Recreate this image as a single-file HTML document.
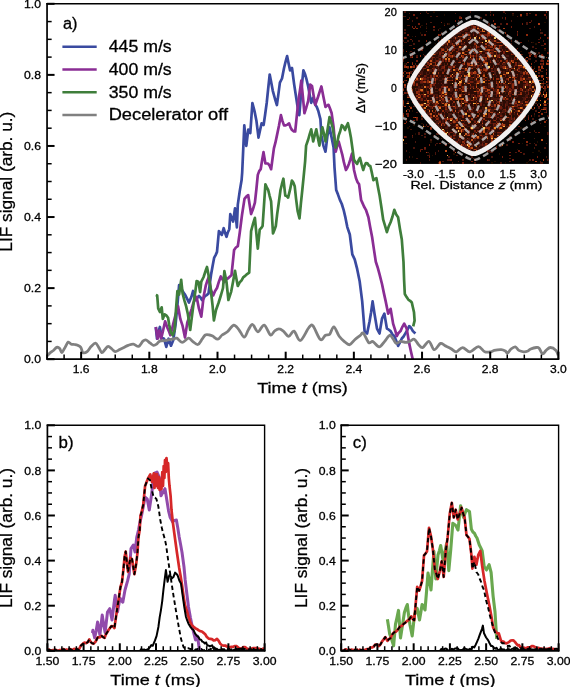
<!DOCTYPE html>
<html><head><meta charset="utf-8"><style>html,body{margin:0;padding:0;background:#fff;}svg{display:block;will-change:transform;}</style></head>
<body><svg width="570" height="687" viewBox="0 0 570 687" font-family='"Liberation Sans", sans-serif'><style>text{stroke:#000;stroke-width:0.28px;}</style><rect width="570" height="687" fill="#fff"/><defs><clipPath id="ca"><rect x="47.1" y="3.8" width="511.3" height="355.2"/></clipPath></defs><g clip-path="url(#ca)"><polyline points="155.8,327.0 157.0,338.7 158.4,332.1 159.9,327.0 161.7,337.6 164.0,338.7 166.3,346.9 168.6,338.7 171.0,345.7 173.3,339.9 175.5,325.0 177.4,305.0 179.1,285.1 180.6,288.0 182.0,290.0 183.5,292.6 185.0,294.5 187.3,299.1 189.0,302.6 191.4,296.8 193.1,291.0 194.6,296.4 196.0,300.0 197.5,297.5 199.0,296.0 200.5,297.5 202.0,300.0 203.5,298.5 205.0,296.0 206.8,295.1 208.5,293.5 211.0,275.0 212.6,265.9 214.2,257.6 215.6,255.1 217.0,251.9 218.9,231.1 220.4,232.8 221.8,234.9 223.7,228.2 225.1,233.1 226.5,236.8 227.9,232.2 229.3,229.2 230.3,214.1 233.1,221.6 235.0,208.4 236.9,227.3 237.8,204.6 239.7,191.4 241.6,180.0 242.2,172.3 244.3,125.4 246.3,145.8 248.3,129.5 250.3,133.0 252.4,103.0 254.5,111.1 256.5,121.3 258.5,137.6 260.1,129.9 261.6,123.4 263.6,125.0 265.1,114.8 266.7,103.0 268.2,88.5 269.7,74.5 271.2,82.2 272.8,90.8 274.9,98.5 276.9,105.0 278.4,94.1 279.9,82.6 282.0,78.5 284.0,68.3 285.6,61.5 287.1,56.1 288.6,63.4 290.1,70.4 292.0,68.0 294.2,84.6 295.8,95.1 297.3,105.0 299.3,115.2 301.3,90.8 303.4,70.4 305.1,74.3 306.6,79.7 308.2,86.5 309.7,95.0 311.2,102.8 313.0,98.0 315.3,104.8 316.8,107.1 318.3,111.0 320.4,119.1 321.4,135.4 323.4,145.6 325.5,151.7 327.5,135.4 329.5,127.3 331.6,137.4 333.6,147.6 334.5,167.3 336.2,190.0 338.0,194.6 339.9,199.9 341.8,204.0 343.6,209.8 345.5,217.9 347.3,227.1 349.8,234.5 352.3,254.3 354.7,259.3 357.2,269.2 359.7,281.6 362.2,301.4 364.6,331.1 367.1,333.5 369.6,321.2 371.1,312.3 372.6,301.4 374.5,313.7 377.0,328.6 379.5,333.5 382.0,318.7 384.4,313.7 386.9,328.6 388.8,329.7 390.6,331.1 392.5,334.5 394.3,336.0 396.2,340.8 398.1,345.9 400.0,342.4 401.8,338.5 403.4,336.8 405.1,333.9 406.7,331.1 409.2,326.1 411.0,327.8 412.9,331.1 415.4,333.5" fill="none" stroke="#3a4aa0" stroke-width="2.7" stroke-linejoin="round" stroke-linecap="butt"/><polyline points="155.8,327.0 157.6,338.7 159.3,330.6 161.1,338.7 162.8,331.8 165.1,321.3 167.5,328.0 168.9,331.1 170.4,335.2 171.9,329.8 173.3,323.6 175.5,315.0 178.0,306.1 180.3,318.9 182.6,325.9 185.0,337.6 187.3,322.4 188.8,318.1 190.2,313.1 191.6,309.1 193.1,303.8 194.8,299.7 196.6,296.8 198.9,308.4 201.3,316.6 203.6,296.8 205.9,285.1 207.4,280.5 208.8,277.0 211.0,290.0 213.2,295.4 215.1,291.0 217.0,288.0 218.9,281.7 220.8,276.5 222.7,279.7 224.5,282.0 226.4,279.3 228.4,278.0 229.9,276.6 231.5,275.0 234.1,250.0 235.9,247.5 237.8,246.2 239.7,233.0 242.0,215.0 244.5,198.9 246.3,196.6 248.2,195.1 249.6,204.5 251.1,214.1 253.0,209.1 254.9,202.7 256.4,189.0 257.8,174.9 259.2,171.1 260.7,169.2 262.1,160.3 263.5,152.2 265.4,163.5 268.0,163.5 269.6,165.6 271.1,169.2 273.9,148.4 275.4,142.7 276.9,135.6 278.9,126.0 280.9,115.2 282.4,120.9 284.0,125.4 285.7,125.4 287.4,124.6 289.1,123.4 290.6,127.6 292.0,130.0 293.6,131.3 295.2,131.5 296.8,115.8 298.3,101.0 299.8,91.5 301.3,80.6 302.9,96.9 304.4,113.2 306.3,107.5 308.2,100.8 310.2,84.5 312.0,86.0 313.6,95.5 315.3,104.8 318.0,97.0 319.7,91.6 321.4,86.5 323.4,96.7 325.5,106.9 327.0,105.6 328.5,104.8 330.1,108.8 331.6,113.0 333.6,127.3 335.7,151.7 337.2,146.2 338.7,141.5 341.0,150.0 342.4,155.2 343.8,161.9 345.9,170.0 347.4,167.6 348.9,163.9 350.4,159.4 352.0,153.7 354.0,170.0 356.0,178.2 357.6,182.2 359.1,184.3 361.1,200.0 362.2,202.4 364.0,206.5 365.9,209.8 368.4,217.2 370.2,227.2 372.1,237.0 374.0,249.9 375.8,261.8 377.6,267.2 379.5,274.1 382.0,284.0 383.9,293.1 385.7,301.4 388.2,313.7 390.6,308.8 393.1,323.6 395.0,329.7 396.8,336.0 398.6,332.9 400.5,331.1 402.4,326.8 404.2,323.6 406.7,328.6 409.2,343.4 411.0,351.7 412.9,360.0" fill="none" stroke="#8a2d94" stroke-width="2.7" stroke-linejoin="round" stroke-linecap="butt"/><polyline points="155.8,295.0 157.2,295.6 158.2,308.4 159.9,312.0 161.7,307.3 162.8,318.9 164.6,314.3 166.3,315.4 168.1,317.8 169.2,324.8 171.0,332.9 172.7,335.2 174.5,330.6 175.9,310.7 177.4,291.0 179.1,294.5 181.2,279.9 182.6,293.3 184.4,300.3 186.1,306.1 187.9,314.3 190.2,330.0 191.9,316.6 193.7,302.6 195.4,291.0 196.6,281.1 198.4,281.7 200.1,292.1 201.3,281.7 203.6,277.0 205.9,270.0 207.0,267.0 208.5,275.0 210.4,286.7 212.5,305.0 213.9,320.4 216.0,310.0 218.5,303.0 221.0,295.0 223.0,288.0 224.4,271.2 226.5,282.0 228.4,300.0 231.2,291.6 233.1,281.5 235.0,270.8 236.4,278.7 237.8,286.0 239.7,282.4 241.6,280.3 243.2,277.4 244.8,276.2 246.4,274.6 249.2,272.7 251.1,231.1 253.0,224.0 254.9,217.8 256.4,233.9 257.8,248.7 259.7,229.7 261.1,228.2 262.6,226.0 265.4,184.3 266.8,187.4 268.2,190.0 269.6,195.8 271.1,201.4 273.0,233.5 274.4,230.1 275.8,226.0 277.2,213.9 278.7,203.3 280.5,190.0 281.9,184.2 283.4,178.7 285.3,195.7 286.7,196.0 288.1,197.6 290.0,189.9 291.9,180.5 293.3,182.5 294.7,186.2 296.1,199.1 297.6,210.8 299.5,218.4 300.9,203.3 302.3,190.0 303.7,176.2 305.1,161.6 306.1,145.6 308.2,139.5 309.7,134.1 311.2,129.3 313.2,141.5 314.8,135.2 316.3,129.3 317.9,138.1 319.4,145.6 320.9,135.5 322.4,127.3 323.9,133.5 325.5,141.5 327.5,130.1 329.5,117.1 331.1,122.2 332.6,127.3 334.1,136.6 335.7,147.6 337.2,142.5 338.7,135.4 340.2,131.2 341.8,125.2 343.4,126.8 345.0,130.0 346.4,126.4 347.9,123.2 349.4,129.6 350.9,137.4 352.4,148.3 354.0,159.9 355.6,162.1 357.1,163.9 358.6,160.3 360.0,158.0 361.6,164.4 363.2,170.0 364.6,165.6 366.0,163.0 367.4,163.3 368.9,165.6 370.3,166.0 371.9,172.9 373.4,180.2 374.9,179.0 376.4,178.2 377.9,186.7 379.5,194.9 381.4,207.3 383.2,219.7 385.0,225.7 386.9,232.1 388.8,226.2 390.6,222.2 392.5,216.5 394.3,209.8 396.2,214.4 398.1,217.2 400.0,229.3 401.8,239.5 403.5,262.0 404.1,280.0 404.8,294.0 406.6,297.1 408.3,299.6 410.1,300.8 411.8,302.5 414.0,312.3 414.6,320.7 413.2,326.3" fill="none" stroke="#3f7e3b" stroke-width="2.7" stroke-linejoin="round" stroke-linecap="butt"/><path d="M47.1,355.8C47.6,355.3 49.2,353.5 50.3,352.6C51.3,351.7 52.3,351.4 53.4,350.5C54.5,349.6 55.5,347.8 56.6,347.4C57.7,347.0 58.8,347.5 59.7,348.4C60.6,349.3 60.9,352.8 61.8,352.6C62.7,352.4 63.9,349.1 65.0,347.4C66.1,345.6 67.2,342.6 68.2,342.1C69.2,341.6 70.2,343.8 71.3,344.2C72.3,344.6 73.5,344.3 74.5,344.5C75.5,344.7 76.5,344.8 77.6,345.3C78.6,345.8 79.9,346.2 80.8,347.4C81.7,348.6 81.9,351.9 82.9,352.6C84.0,353.3 85.7,352.7 87.1,351.6C88.5,350.6 89.9,347.7 91.3,346.3C92.7,344.9 94.3,343.0 95.5,343.2C96.7,343.4 97.7,345.8 98.7,347.4C99.8,349.0 100.8,352.2 101.8,352.6C102.8,353.0 103.9,350.6 105.0,349.5C106.1,348.4 107.0,346.3 108.2,346.3C109.4,346.3 111.2,348.6 112.4,349.5C113.6,350.4 114.3,351.6 115.5,351.6C116.7,351.6 118.3,350.2 119.7,349.5C121.1,348.8 122.5,348.1 123.9,347.4C125.3,346.7 126.6,345.8 128.2,345.3C129.8,344.8 131.7,344.0 133.4,344.2C135.2,344.4 137.1,346.8 138.7,346.3C140.3,345.8 141.7,342.2 142.9,341.1C144.1,340.1 144.9,339.6 146.1,340.0C147.3,340.4 149.1,342.3 150.3,343.2C151.5,344.1 152.4,345.1 153.4,345.3C154.4,345.5 155.6,344.9 156.6,344.2C157.6,343.5 158.1,341.8 159.7,341.1C161.3,340.5 164.2,340.6 166.3,340.3C168.5,340.0 170.8,339.6 172.6,339.2C174.3,338.8 175.2,337.7 176.8,338.2C178.4,338.7 180.2,342.4 182.1,342.4C184.0,342.4 186.7,338.4 188.4,338.2C190.2,338.0 191.0,340.2 192.6,341.3C194.2,342.4 196.3,344.9 197.9,344.5C199.5,344.1 200.9,340.8 202.1,339.2C203.3,337.6 204.1,335.7 205.3,335.0C206.5,334.3 208.3,334.8 209.5,335.0C210.7,335.2 211.2,335.4 212.6,336.1C214.0,336.8 216.3,339.4 217.9,339.2C219.5,339.0 220.5,336.2 222.1,335.0C223.7,333.8 225.5,333.4 227.4,331.8C229.3,330.2 231.8,325.5 233.7,325.1C235.6,324.8 237.2,327.7 238.9,329.7C240.7,331.7 242.6,337.1 244.2,337.1C245.8,337.1 247.0,331.8 248.4,329.7C249.8,327.6 251.0,324.1 252.6,324.5C254.2,324.9 256.0,331.7 257.9,331.8C259.8,331.9 262.1,324.6 264.2,325.1C266.3,325.6 268.8,334.1 270.5,335.0C272.2,335.9 273.2,331.8 274.7,330.8C276.1,329.8 277.8,328.8 279.2,328.9C280.6,328.9 281.8,329.9 283.4,331.1C285.0,332.3 286.9,336.3 288.7,336.3C290.5,336.3 292.1,330.4 294.0,331.1C295.9,331.8 297.9,341.0 300.3,340.5C302.8,340.0 306.6,330.3 308.7,327.9C310.8,325.4 311.0,323.9 312.9,325.8C314.8,327.7 318.2,337.9 320.3,339.5C322.4,341.1 323.9,336.2 325.5,335.3C327.1,334.4 328.3,335.6 329.7,334.2C331.1,332.8 332.3,326.4 333.9,326.8C335.5,327.2 337.4,333.8 339.2,336.3C341.0,338.8 342.8,340.2 344.5,341.6C346.2,343.0 347.9,345.1 349.7,344.7C351.4,344.3 353.2,341.1 355.0,339.5C356.8,337.9 358.9,336.4 360.3,335.3C361.7,334.2 362.0,332.0 363.4,333.2C364.8,334.4 367.1,341.2 368.7,342.6C370.3,344.0 371.1,340.9 372.9,341.6C374.6,342.3 377.3,346.8 379.2,346.8C381.1,346.8 382.8,343.5 384.5,341.6C386.2,339.7 388.2,335.7 389.7,335.3C391.1,334.9 392.1,337.9 393.2,339.2C394.3,340.5 395.1,343.0 396.3,343.4C397.5,343.8 398.9,341.5 400.5,341.3C402.1,341.1 404.2,342.4 405.8,342.4C407.4,342.4 408.6,341.8 410.0,341.3C411.4,340.8 412.8,338.7 414.2,339.2C415.6,339.7 417.0,343.1 418.4,344.5C419.8,345.9 420.9,348.1 422.6,347.6C424.4,347.1 427.0,341.0 428.9,341.3C430.8,341.6 432.3,349.4 434.2,349.7C436.1,350.0 438.8,344.1 440.5,343.4C442.2,342.7 442.9,344.6 444.7,345.5C446.5,346.4 449.2,347.6 451.1,348.7C453.0,349.8 454.4,352.0 456.3,351.8C458.2,351.6 460.3,347.6 462.6,347.6C464.9,347.6 467.4,352.0 470.0,351.8C472.6,351.6 475.9,346.6 478.4,346.6C480.8,346.6 482.6,350.9 484.7,351.8C486.8,352.7 489.5,352.0 491.1,351.8C492.7,351.6 492.5,350.8 494.2,350.4C495.9,350.0 499.3,349.5 501.2,349.6C503.1,349.7 504.3,350.4 505.4,351.0C506.4,351.6 506.6,353.5 507.5,353.2C508.4,352.9 509.7,350.1 511.0,349.0C512.3,347.9 514.0,346.6 515.3,346.8C516.6,347.0 517.4,349.6 518.8,350.4C520.2,351.2 522.2,351.7 523.7,351.8C525.2,351.9 526.7,351.5 527.9,351.0C529.1,350.5 529.3,349.6 530.7,349.0C532.1,348.4 534.9,347.6 536.3,347.5C537.7,347.4 538.0,347.1 539.1,348.2C540.2,349.3 541.4,353.5 542.6,353.9C543.8,354.3 544.8,351.5 546.1,350.4C547.4,349.3 548.8,347.5 550.4,347.5C552.0,347.5 554.7,349.1 556.0,350.4C557.3,351.7 557.8,354.5 558.1,355.3" fill="none" stroke="#808080" stroke-width="2.8" stroke-linejoin="round"/></g><defs><clipPath id="cb"><rect x="47.4" y="425.3" width="217.2" height="225.5"/></clipPath><clipPath id="cc"><rect x="341.2" y="425.3" width="217.4" height="225.5"/></clipPath></defs><g clip-path="url(#cb)"><polyline points="92.4,633.0 92.9,630.3 94.7,637.8 96.2,630.6 97.6,622.1 99.9,635.0 102.2,615.1 103.7,624.6 105.1,632.6 107.5,612.0 109.8,608.7 112.0,620.0 114.5,600.0 115.2,595.2 117.5,612.0 120.0,598.0 121.4,600.7 122.8,602.2 125.0,590.0 127.5,581.2 129.2,574.2 131.0,548.6 133.3,545.1 135.0,552.0 136.8,537.0 138.5,530.0 139.9,522.4 141.4,516.2 143.2,506.9 145.1,497.3 147.2,498.9 149.3,510.0 151.5,495.0 152.9,484.1 154.3,473.4 155.7,472.7 157.0,472.0 159.4,477.5 161.0,495.8 163.0,492.0 165.0,488.7 166.5,498.0 168.6,511.1 170.1,517.2 172.6,521.9 174.5,520.4 176.4,520.0 177.8,528.0 179.2,537.0 180.6,544.5 182.0,552.2 184.0,567.0 185.2,580.0 187.0,595.0 188.5,607.0 190.5,618.0 193.0,630.0 195.5,640.0 197.5,636.0 199.5,650.5" fill="none" stroke="#914bab" stroke-width="3.0" stroke-linejoin="round" stroke-linecap="butt"/><polyline points="47.7,650.2 49.1,649.6 50.4,650.5 51.8,650.4 53.1,650.2 54.5,650.2 55.8,649.7 57.1,650.7 58.4,650.7 59.8,650.1 61.1,650.1 62.4,649.6 63.7,649.1 65.0,650.0 66.6,649.7 68.2,650.0 69.8,648.9 71.4,649.6 72.8,650.0 74.2,648.9 75.6,649.2 77.2,649.0 78.7,649.8 80.8,645.8 83.0,643.7 84.5,642.6 86.1,643.2 87.7,642.2 89.3,639.5 90.8,642.1 92.2,643.3 93.5,643.7 95.6,641.6 97.7,637.4 99.7,637.3 101.6,635.9 103.1,637.1 104.6,637.9 105.9,634.4 107.2,632.3 108.5,630.0 110.0,628.0 111.4,626.1 112.9,626.4 114.4,628.1 117.0,610.0 118.7,598.7 120.5,587.0 122.0,582.0 123.4,569.6 124.6,556.8 125.7,551.5 126.9,562.6 128.0,571.9 130.4,557.9 132.0,559.0 134.4,574.2 136.2,563.8 137.4,553.3 138.5,537.0 139.7,530.0 140.4,516.2 141.8,511.4 143.2,504.9 145.1,486.0 146.6,482.0 148.0,478.4 150.3,474.4 152.0,482.0 153.8,473.4 154.5,488.0 155.3,474.0 156.2,486.0 157.0,474.0 158.0,488.0 158.8,477.0 159.6,490.0 160.4,480.0 161.5,489.0 162.3,472.0 163.0,486.0 163.7,466.0 164.4,478.0 165.0,460.0 165.8,472.0 166.5,458.0 167.3,468.0 168.1,463.0 168.8,478.0 169.5,486.0 170.6,495.8 171.5,510.0 172.8,522.0 174.8,537.0 177.0,553.0 179.2,568.0 180.6,575.9 182.0,585.0 183.5,595.7 185.0,605.3 186.8,610.5 188.5,617.0 190.2,622.0 191.8,625.4 193.2,626.4 194.6,627.7 196.0,628.7 197.4,629.3 198.8,630.3 200.2,631.2 201.9,631.5 203.6,632.9 205.2,634.2 206.9,637.1 208.6,638.6 210.3,638.8 211.9,639.1 213.6,640.4 215.3,640.1 217.0,638.8 218.7,640.8 220.3,643.8 222.0,645.2 223.6,645.6 225.3,645.5 226.9,646.5 228.4,647.0 230.0,647.1 231.7,646.9 233.3,646.8 235.0,646.0 236.7,646.2 238.3,647.6 240.0,648.5 241.7,648.6 243.3,647.0 245.0,647.0 246.7,648.4 248.3,649.0 250.0,649.0 251.7,648.5 253.3,648.1 255.0,648.0 256.7,648.2 258.3,648.5 260.0,649.0 261.5,649.7 263.1,648.5 264.6,648.5" fill="none" stroke="#d62728" stroke-width="2.7" stroke-linejoin="round" stroke-linecap="butt"/><polyline points="140.0,650.0 141.4,649.1 142.7,650.0 144.1,649.4 145.4,650.1 146.8,649.7 148.4,648.8 150.0,647.1 151.3,645.1 152.7,645.8 155.0,640.4 156.6,635.9 158.4,627.0 159.7,617.1 160.9,610.3 162.2,601.3 163.4,590.2 164.7,579.4 165.9,570.1 167.6,581.8 169.3,575.2 170.6,576.0 171.8,578.5 173.4,577.1 175.1,572.6 176.3,573.8 177.6,575.2 179.3,580.4 181.0,583.5 182.6,595.2 184.3,607.0 186.0,617.0 187.2,620.3 188.5,623.7 190.2,626.6 191.8,628.7 193.5,630.1 195.2,633.7 196.8,635.8 198.5,637.1 199.8,639.5 201.1,639.7 202.3,641.6 203.6,642.1 204.8,643.5 206.1,642.4 207.3,645.5 208.6,645.5 209.8,646.3 211.0,645.8 212.2,645.4 213.4,648.6 214.6,647.8 215.8,649.0 217.0,648.8 218.2,650.2 219.4,649.8 220.6,650.6 221.8,649.1 223.0,650.5 224.3,649.6 225.5,651.3 226.7,651.2 227.9,648.9 229.1,649.2 230.3,650.5 231.5,649.4 232.7,651.6 233.9,649.7 235.2,650.2 236.4,648.9 237.6,649.4 238.8,648.8 240.0,649.0 241.2,648.6 242.5,649.5 243.8,649.6 245.0,650.8 246.2,650.2 247.5,651.1 248.8,651.0 250.0,650.0 251.2,651.6 252.4,650.5 253.7,648.9 254.9,651.2 256.1,651.5 257.3,651.3 258.5,650.2 259.7,650.7 261.0,649.1 262.2,651.1 263.4,650.2 264.6,650.0" fill="none" stroke="#000" stroke-width="2.0" stroke-linejoin="round" stroke-linecap="butt"/><polyline points="47.7,650.2 49.1,649.6 50.4,650.5 51.8,650.4 53.1,650.2 54.5,650.2 55.8,649.7 57.1,650.7 58.4,650.7 59.8,650.1 61.1,650.1 62.4,649.6 63.7,649.1 65.0,650.0 66.6,649.7 68.2,650.0 69.8,648.9 71.4,649.6 72.8,650.0 74.2,648.9 75.6,649.2 77.2,649.0 78.7,649.8 80.8,645.8 83.0,643.7 84.5,642.6 86.1,643.2 87.7,642.2 89.3,639.5 90.8,642.1 92.2,643.3 93.5,643.7 95.6,641.6 97.7,637.4 99.7,637.3 101.6,635.9 103.1,637.1 104.6,637.9 105.9,634.4 107.2,632.3 108.5,630.0 110.0,628.0 111.4,626.1 112.9,626.4 114.4,628.1 117.0,610.0 118.7,598.7 120.5,587.0 122.0,582.0 123.4,569.6 124.6,556.8 125.7,551.5 126.9,562.6 128.0,571.9 130.4,557.9 132.0,559.0 134.4,574.2 136.2,563.8 137.4,553.3 138.5,537.0 139.7,530.0 140.4,516.2 141.8,511.4 143.2,504.9 145.1,486.0 146.6,482.0 148.0,478.4 149.9,480.0 151.8,490.0 153.7,497.3 155.1,497.6 156.5,499.2 158.4,506.8 160.3,520.0 161.7,527.2 163.1,533.3 164.6,538.3 166.0,544.6 168.4,561.8 170.9,578.5 173.4,595.2 175.9,610.3 178.5,625.4 181.0,638.8 183.5,647.1 184.8,648.3 186.1,647.8 187.4,648.3 188.7,648.3 190.0,649.0 191.4,649.0 192.9,648.6 194.3,648.4 195.7,649.9 197.1,648.9 198.6,649.9 200.0,649.5 201.3,649.0 202.7,650.3 204.0,650.2 205.3,650.0 206.7,650.0 208.0,649.6 209.3,649.9 210.7,648.8 212.0,649.5 213.3,650.1 214.7,649.0 216.0,650.3 217.3,650.2 218.7,649.3 220.0,649.5 221.3,649.3 222.6,649.4 223.9,649.3 225.2,650.4 226.6,649.3 227.9,648.6 229.2,648.8 230.5,649.9 231.8,650.4 233.1,649.5 234.4,649.5 235.7,649.6 237.1,649.9 238.4,649.0 239.7,649.7 241.0,649.6 242.3,649.7 243.6,648.9 244.9,648.9 246.2,649.2 247.5,650.3 248.9,649.2 250.2,649.7 251.5,649.2 252.8,648.8 254.1,648.7 255.4,650.1 256.7,650.0 258.0,649.3 259.4,649.8 260.7,649.8 262.0,650.2 263.3,650.3 264.6,649.5" fill="none" stroke="#000" stroke-width="1.9" stroke-linejoin="round" stroke-linecap="butt" stroke-dasharray="4.5,3"/></g><g clip-path="url(#cc)"><polyline points="387.4,619.2 389.7,634.0 391.6,639.2 393.6,645.8 395.5,624.1 397.0,617.6 398.5,610.4 400.5,637.9 402.4,625.7 404.4,612.4 405.9,607.9 407.3,604.5 408.6,615.5 410.0,625.0 412.2,635.9 414.5,615.0 415.9,611.2 417.2,608.4 419.5,620.0 420.8,612.5 422.1,604.5 423.6,606.6 425.0,610.0 426.5,592.0 428.0,573.1 429.5,581.0 431.0,590.0 432.4,571.0 433.9,551.4 435.8,579.0 438.0,555.0 439.4,550.6 440.7,545.5 443.0,560.0 444.8,552.2 446.6,543.6 448.8,570.6 450.8,549.0 452.8,523.4 454.2,524.3 455.7,525.4 458.0,530.0 459.3,518.4 460.6,505.7 462.1,512.4 463.6,517.5 465.1,513.0 466.5,509.7 468.0,510.7 469.5,511.6 471.4,529.3 472.9,532.0 474.4,533.2 475.7,536.0 477.0,538.0 479.3,545.0 480.8,547.9 482.2,550.9 484.2,566.6 486.5,570.0 487.8,567.0 489.1,564.7 491.1,572.5 493.1,596.1 495.0,611.8 496.7,638.9" fill="none" stroke="#6aa84f" stroke-width="3.1" stroke-linejoin="round" stroke-linecap="butt"/><polyline points="342.1,650.2 343.5,651.0 344.9,649.6 346.3,649.3 347.7,651.1 349.1,649.6 350.5,650.2 351.8,649.5 353.1,650.4 354.5,649.8 355.8,650.8 357.1,649.6 358.5,650.9 359.8,649.7 361.1,650.0 362.7,649.9 364.2,650.3 365.8,649.6 367.4,649.0 368.9,649.1 370.5,647.6 372.1,647.5 373.7,646.6 375.2,644.7 376.8,644.5 378.9,646.1 380.5,644.4 382.1,641.3 383.7,639.4 385.3,637.1 387.4,640.8 388.9,639.2 390.5,638.2 392.6,634.0 394.2,632.3 395.8,631.8 397.5,630.0 400.0,626.6 401.7,626.0 403.4,624.1 405.2,622.7 407.0,621.0 408.4,620.2 409.9,618.4 411.3,616.3 412.8,619.1 414.2,620.2 415.7,603.6 417.2,586.8 419.1,590.7 420.6,586.2 422.1,580.9 424.0,555.4 425.5,553.6 427.0,551.4 429.0,527.9 430.9,535.7 432.9,549.5 434.8,569.1 436.3,573.6 437.8,579.0 439.8,571.1 441.7,561.3 443.7,577.0 445.7,551.4 447.6,537.7 449.8,513.6 451.8,502.8 453.8,517.5 455.7,509.7 457.7,519.5 459.7,513.6 461.6,507.7 463.1,513.4 464.6,517.5 466.5,535.2 468.0,536.8 469.5,539.1 471.4,554.8 472.4,568.6 474.4,556.8 476.4,564.7 478.3,554.8 480.3,550.9 482.2,566.0 484.5,581.0 487.0,594.0 489.5,606.0 491.5,617.0 493.2,627.7 494.6,630.3 496.0,631.9 497.4,633.4 498.8,633.3 500.9,640.4 502.3,641.6 503.7,641.6 505.1,643.2 506.5,643.3 507.9,642.6 509.3,641.8 510.7,640.5 512.1,640.4 513.5,640.3 514.9,641.8 516.3,643.6 517.7,645.3 519.1,645.2 520.5,647.5 521.9,647.4 523.3,647.6 524.7,647.9 526.1,648.1 527.5,647.4 529.0,647.3 530.4,647.3 531.8,646.0 533.2,646.2 534.6,646.8 536.0,647.7 537.4,648.1 538.8,647.9 540.2,648.6 541.6,648.7 543.0,648.8 544.4,648.7 545.8,649.1 547.2,648.9 548.6,648.8 549.9,648.2 551.3,649.9 552.6,648.8 554.0,649.1 555.3,649.1 556.7,650.2 558.0,649.5" fill="none" stroke="#d62728" stroke-width="2.7" stroke-linejoin="round" stroke-linecap="butt"/><polyline points="440.0,650.0 441.2,649.2 442.4,648.8 443.6,649.6 444.8,648.8 446.0,648.5 447.2,649.4 448.4,650.8 449.6,650.5 450.8,650.3 452.0,648.7 453.2,649.6 454.4,648.8 455.6,648.5 456.8,648.2 458.0,648.5 459.2,650.4 460.4,650.1 461.6,650.0 462.8,649.9 464.0,648.2 465.2,648.5 466.4,649.3 467.6,649.5 468.8,649.8 470.0,648.8 471.4,649.4 472.8,646.7 474.2,647.4 475.6,644.9 477.0,641.8 478.4,638.7 479.8,634.7 481.9,629.1 482.9,625.6 484.0,633.3 486.1,637.5 488.2,640.4 489.6,643.2 491.1,646.0 492.5,646.0 493.9,647.8 495.3,648.8 496.5,647.7 497.8,650.1 499.0,650.0 500.2,649.2 501.5,648.5 502.7,650.3 503.9,649.4 505.2,650.4 506.4,650.3 507.6,649.4 508.9,649.2 510.1,649.8 511.4,649.4 512.6,648.7 513.8,649.2 515.1,650.6 516.3,648.5 517.5,648.6 518.8,650.3 520.0,650.0 521.2,649.4 522.5,650.1 523.7,649.9 524.9,649.6 526.1,651.4 527.4,649.1 528.6,649.8 529.8,649.2 531.0,650.4 532.3,649.4 533.5,649.6 534.7,650.7 535.9,649.5 537.2,650.2 538.4,651.1 539.6,648.9 540.8,648.8 542.1,649.2 543.3,650.7 544.5,650.3 545.7,649.3 547.0,649.5 548.2,649.1 549.4,649.9 550.6,648.7 551.9,650.6 553.1,651.1 554.3,651.3 555.5,650.7 556.8,651.3 558.0,650.0" fill="none" stroke="#000" stroke-width="2.0" stroke-linejoin="round" stroke-linecap="butt"/><polyline points="342.1,650.2 343.5,651.0 344.9,649.6 346.3,649.3 347.7,651.1 349.1,649.6 350.5,650.2 351.8,649.5 353.1,650.4 354.5,649.8 355.8,650.8 357.1,649.6 358.5,650.9 359.8,649.7 361.1,650.0 362.7,649.9 364.2,650.3 365.8,649.6 367.4,649.0 368.9,649.1 370.5,647.6 372.1,647.5 373.7,646.6 375.2,644.7 376.8,644.5 378.9,646.1 380.5,644.4 382.1,641.3 383.7,639.4 385.3,637.1 387.4,640.8 388.9,639.2 390.5,638.2 392.6,634.0 394.2,632.3 395.8,631.8 397.5,630.0 400.0,626.6 401.7,626.0 403.4,624.1 405.2,622.7 407.0,621.0 408.4,620.2 409.9,618.4 411.3,616.3 412.8,619.1 414.2,620.2 415.7,603.6 417.2,586.8 419.1,590.7 420.6,586.2 422.1,580.9 424.0,555.4 425.5,553.6 427.0,551.4 429.0,527.9 430.9,535.7 432.9,549.5 434.8,569.1 436.3,573.6 437.8,579.0 439.8,571.1 441.7,561.3 443.7,577.0 445.7,551.4 447.6,537.7 449.8,513.6 451.8,502.8 453.8,517.5 455.7,509.7 457.7,519.5 459.7,513.6 461.6,507.7 463.1,513.4 464.6,517.5 466.5,535.2 468.0,536.8 469.5,539.1 471.4,554.8 472.4,568.6 474.4,562.0 476.4,572.0 478.3,574.5 479.8,579.0 481.3,582.4 482.6,587.0 484.0,590.0 486.0,600.0 488.2,608.1 490.0,616.0 492.5,624.9 493.9,629.4 495.3,633.3 496.7,635.5 498.1,639.0 499.5,641.0 500.9,642.1 502.3,643.2 503.7,643.3 505.1,643.8 506.5,645.4 507.9,646.0 509.3,645.6 510.7,647.6 512.1,647.3 513.5,647.7 514.9,648.1 516.3,648.0 517.6,648.6 519.0,649.1 520.4,648.1 521.8,648.3 523.1,648.7 524.5,648.3 525.9,648.9 527.3,648.9 528.6,648.8 530.0,649.0 531.3,649.3 532.7,649.1 534.0,648.3 535.3,650.0 536.7,648.9 538.0,649.0 539.3,649.0 540.7,650.0 542.0,650.0 543.3,649.3 544.7,649.1 546.0,648.6 547.3,650.0 548.7,648.7 550.0,649.4 551.3,649.1 552.7,649.1 554.0,649.2 555.3,648.9 556.7,648.6 558.0,649.5" fill="none" stroke="#000" stroke-width="1.9" stroke-linejoin="round" stroke-linecap="butt" stroke-dasharray="4.5,3"/></g><text x="352.8" y="447.9" font-size="16" text-anchor="start" textLength="14.0" lengthAdjust="spacingAndGlyphs">c)</text><line x1="47.05" y1="359.20" x2="47.05" y2="354.60" stroke="#000" stroke-width="1.5"/>
<line x1="64.10" y1="359.20" x2="64.10" y2="354.60" stroke="#000" stroke-width="1.5"/>
<line x1="81.14" y1="359.20" x2="81.14" y2="351.70" stroke="#000" stroke-width="2.0"/>
<line x1="98.18" y1="359.20" x2="98.18" y2="354.60" stroke="#000" stroke-width="1.5"/>
<line x1="115.23" y1="359.20" x2="115.23" y2="354.60" stroke="#000" stroke-width="1.5"/>
<line x1="132.27" y1="359.20" x2="132.27" y2="354.60" stroke="#000" stroke-width="1.5"/>
<line x1="149.32" y1="359.20" x2="149.32" y2="351.70" stroke="#000" stroke-width="2.0"/>
<line x1="166.37" y1="359.20" x2="166.37" y2="354.60" stroke="#000" stroke-width="1.5"/>
<line x1="183.41" y1="359.20" x2="183.41" y2="354.60" stroke="#000" stroke-width="1.5"/>
<line x1="200.45" y1="359.20" x2="200.45" y2="354.60" stroke="#000" stroke-width="1.5"/>
<line x1="217.50" y1="359.20" x2="217.50" y2="351.70" stroke="#000" stroke-width="2.0"/>
<line x1="234.54" y1="359.20" x2="234.54" y2="354.60" stroke="#000" stroke-width="1.5"/>
<line x1="251.59" y1="359.20" x2="251.59" y2="354.60" stroke="#000" stroke-width="1.5"/>
<line x1="268.63" y1="359.20" x2="268.63" y2="354.60" stroke="#000" stroke-width="1.5"/>
<line x1="285.68" y1="359.20" x2="285.68" y2="351.70" stroke="#000" stroke-width="2.0"/>
<line x1="302.72" y1="359.20" x2="302.72" y2="354.60" stroke="#000" stroke-width="1.5"/>
<line x1="319.77" y1="359.20" x2="319.77" y2="354.60" stroke="#000" stroke-width="1.5"/>
<line x1="336.82" y1="359.20" x2="336.82" y2="354.60" stroke="#000" stroke-width="1.5"/>
<line x1="353.86" y1="359.20" x2="353.86" y2="351.70" stroke="#000" stroke-width="2.0"/>
<line x1="370.91" y1="359.20" x2="370.91" y2="354.60" stroke="#000" stroke-width="1.5"/>
<line x1="387.95" y1="359.20" x2="387.95" y2="354.60" stroke="#000" stroke-width="1.5"/>
<line x1="404.99" y1="359.20" x2="404.99" y2="354.60" stroke="#000" stroke-width="1.5"/>
<line x1="422.04" y1="359.20" x2="422.04" y2="351.70" stroke="#000" stroke-width="2.0"/>
<line x1="439.09" y1="359.20" x2="439.09" y2="354.60" stroke="#000" stroke-width="1.5"/>
<line x1="456.13" y1="359.20" x2="456.13" y2="354.60" stroke="#000" stroke-width="1.5"/>
<line x1="473.18" y1="359.20" x2="473.18" y2="354.60" stroke="#000" stroke-width="1.5"/>
<line x1="490.22" y1="359.20" x2="490.22" y2="351.70" stroke="#000" stroke-width="2.0"/>
<line x1="507.26" y1="359.20" x2="507.26" y2="354.60" stroke="#000" stroke-width="1.5"/>
<line x1="524.31" y1="359.20" x2="524.31" y2="354.60" stroke="#000" stroke-width="1.5"/>
<line x1="541.36" y1="359.20" x2="541.36" y2="354.60" stroke="#000" stroke-width="1.5"/>
<line x1="558.40" y1="359.20" x2="558.40" y2="351.70" stroke="#000" stroke-width="2.0"/>
<line x1="47.05" y1="359.20" x2="54.55" y2="359.20" stroke="#000" stroke-width="2.0"/>
<line x1="47.05" y1="341.43" x2="51.65" y2="341.43" stroke="#000" stroke-width="1.5"/>
<line x1="47.05" y1="323.66" x2="51.65" y2="323.66" stroke="#000" stroke-width="1.5"/>
<line x1="47.05" y1="305.89" x2="51.65" y2="305.89" stroke="#000" stroke-width="1.5"/>
<line x1="47.05" y1="288.12" x2="54.55" y2="288.12" stroke="#000" stroke-width="2.0"/>
<line x1="47.05" y1="270.35" x2="51.65" y2="270.35" stroke="#000" stroke-width="1.5"/>
<line x1="47.05" y1="252.58" x2="51.65" y2="252.58" stroke="#000" stroke-width="1.5"/>
<line x1="47.05" y1="234.81" x2="51.65" y2="234.81" stroke="#000" stroke-width="1.5"/>
<line x1="47.05" y1="217.04" x2="54.55" y2="217.04" stroke="#000" stroke-width="2.0"/>
<line x1="47.05" y1="199.27" x2="51.65" y2="199.27" stroke="#000" stroke-width="1.5"/>
<line x1="47.05" y1="181.50" x2="51.65" y2="181.50" stroke="#000" stroke-width="1.5"/>
<line x1="47.05" y1="163.73" x2="51.65" y2="163.73" stroke="#000" stroke-width="1.5"/>
<line x1="47.05" y1="145.96" x2="54.55" y2="145.96" stroke="#000" stroke-width="2.0"/>
<line x1="47.05" y1="128.19" x2="51.65" y2="128.19" stroke="#000" stroke-width="1.5"/>
<line x1="47.05" y1="110.42" x2="51.65" y2="110.42" stroke="#000" stroke-width="1.5"/>
<line x1="47.05" y1="92.65" x2="51.65" y2="92.65" stroke="#000" stroke-width="1.5"/>
<line x1="47.05" y1="74.88" x2="54.55" y2="74.88" stroke="#000" stroke-width="2.0"/>
<line x1="47.05" y1="57.11" x2="51.65" y2="57.11" stroke="#000" stroke-width="1.5"/>
<line x1="47.05" y1="39.34" x2="51.65" y2="39.34" stroke="#000" stroke-width="1.5"/>
<line x1="47.05" y1="21.57" x2="51.65" y2="21.57" stroke="#000" stroke-width="1.5"/>
<line x1="47.05" y1="3.80" x2="54.55" y2="3.80" stroke="#000" stroke-width="2.0"/>
<path d="M47.05,3.80H558.40V359.20" fill="none" stroke="#000" stroke-width="1.4" stroke-linecap="square"/>
<path d="M47.05,3.80V359.20H558.40" fill="none" stroke="#000" stroke-width="1.7" stroke-linecap="square"/>
<text x="81.1" y="373.3" font-size="11.2" text-anchor="middle" textLength="16.8" lengthAdjust="spacingAndGlyphs">1.6</text>
<text x="149.3" y="373.3" font-size="11.2" text-anchor="middle" textLength="16.8" lengthAdjust="spacingAndGlyphs">1.8</text>
<text x="217.5" y="373.3" font-size="11.2" text-anchor="middle" textLength="16.8" lengthAdjust="spacingAndGlyphs">2.0</text>
<text x="285.7" y="373.3" font-size="11.2" text-anchor="middle" textLength="16.8" lengthAdjust="spacingAndGlyphs">2.2</text>
<text x="353.9" y="373.3" font-size="11.2" text-anchor="middle" textLength="16.8" lengthAdjust="spacingAndGlyphs">2.4</text>
<text x="422.0" y="373.3" font-size="11.2" text-anchor="middle" textLength="16.8" lengthAdjust="spacingAndGlyphs">2.6</text>
<text x="490.2" y="373.3" font-size="11.2" text-anchor="middle" textLength="16.8" lengthAdjust="spacingAndGlyphs">2.8</text>
<text x="558.4" y="373.3" font-size="11.2" text-anchor="middle" textLength="16.8" lengthAdjust="spacingAndGlyphs">3.0</text>
<text x="41.0" y="363.3" font-size="11.2" text-anchor="end" textLength="17.0" lengthAdjust="spacingAndGlyphs">0.0</text>
<text x="41.0" y="292.2" font-size="11.2" text-anchor="end" textLength="17.0" lengthAdjust="spacingAndGlyphs">0.2</text>
<text x="41.0" y="221.1" font-size="11.2" text-anchor="end" textLength="17.0" lengthAdjust="spacingAndGlyphs">0.4</text>
<text x="41.0" y="150.1" font-size="11.2" text-anchor="end" textLength="17.0" lengthAdjust="spacingAndGlyphs">0.6</text>
<text x="41.0" y="79.0" font-size="11.2" text-anchor="end" textLength="17.0" lengthAdjust="spacingAndGlyphs">0.8</text>
<text x="41.0" y="7.9" font-size="11.2" text-anchor="end" textLength="17.0" lengthAdjust="spacingAndGlyphs">1.0</text><line x1="47.40" y1="650.80" x2="47.40" y2="643.30" stroke="#000" stroke-width="2.0"/>
<line x1="54.64" y1="650.80" x2="54.64" y2="646.20" stroke="#000" stroke-width="1.5"/>
<line x1="61.88" y1="650.80" x2="61.88" y2="646.20" stroke="#000" stroke-width="1.5"/>
<line x1="69.12" y1="650.80" x2="69.12" y2="646.20" stroke="#000" stroke-width="1.5"/>
<line x1="76.36" y1="650.80" x2="76.36" y2="646.20" stroke="#000" stroke-width="1.5"/>
<line x1="83.60" y1="650.80" x2="83.60" y2="643.30" stroke="#000" stroke-width="2.0"/>
<line x1="90.84" y1="650.80" x2="90.84" y2="646.20" stroke="#000" stroke-width="1.5"/>
<line x1="98.08" y1="650.80" x2="98.08" y2="646.20" stroke="#000" stroke-width="1.5"/>
<line x1="105.32" y1="650.80" x2="105.32" y2="646.20" stroke="#000" stroke-width="1.5"/>
<line x1="112.56" y1="650.80" x2="112.56" y2="646.20" stroke="#000" stroke-width="1.5"/>
<line x1="119.80" y1="650.80" x2="119.80" y2="643.30" stroke="#000" stroke-width="2.0"/>
<line x1="127.04" y1="650.80" x2="127.04" y2="646.20" stroke="#000" stroke-width="1.5"/>
<line x1="134.28" y1="650.80" x2="134.28" y2="646.20" stroke="#000" stroke-width="1.5"/>
<line x1="141.52" y1="650.80" x2="141.52" y2="646.20" stroke="#000" stroke-width="1.5"/>
<line x1="148.76" y1="650.80" x2="148.76" y2="646.20" stroke="#000" stroke-width="1.5"/>
<line x1="156.00" y1="650.80" x2="156.00" y2="643.30" stroke="#000" stroke-width="2.0"/>
<line x1="163.24" y1="650.80" x2="163.24" y2="646.20" stroke="#000" stroke-width="1.5"/>
<line x1="170.48" y1="650.80" x2="170.48" y2="646.20" stroke="#000" stroke-width="1.5"/>
<line x1="177.72" y1="650.80" x2="177.72" y2="646.20" stroke="#000" stroke-width="1.5"/>
<line x1="184.96" y1="650.80" x2="184.96" y2="646.20" stroke="#000" stroke-width="1.5"/>
<line x1="192.20" y1="650.80" x2="192.20" y2="643.30" stroke="#000" stroke-width="2.0"/>
<line x1="199.44" y1="650.80" x2="199.44" y2="646.20" stroke="#000" stroke-width="1.5"/>
<line x1="206.68" y1="650.80" x2="206.68" y2="646.20" stroke="#000" stroke-width="1.5"/>
<line x1="213.92" y1="650.80" x2="213.92" y2="646.20" stroke="#000" stroke-width="1.5"/>
<line x1="221.16" y1="650.80" x2="221.16" y2="646.20" stroke="#000" stroke-width="1.5"/>
<line x1="228.40" y1="650.80" x2="228.40" y2="643.30" stroke="#000" stroke-width="2.0"/>
<line x1="235.64" y1="650.80" x2="235.64" y2="646.20" stroke="#000" stroke-width="1.5"/>
<line x1="242.88" y1="650.80" x2="242.88" y2="646.20" stroke="#000" stroke-width="1.5"/>
<line x1="250.12" y1="650.80" x2="250.12" y2="646.20" stroke="#000" stroke-width="1.5"/>
<line x1="257.36" y1="650.80" x2="257.36" y2="646.20" stroke="#000" stroke-width="1.5"/>
<line x1="264.60" y1="650.80" x2="264.60" y2="643.30" stroke="#000" stroke-width="2.0"/>
<line x1="47.40" y1="650.80" x2="54.90" y2="650.80" stroke="#000" stroke-width="2.0"/>
<line x1="47.40" y1="639.52" x2="52.00" y2="639.52" stroke="#000" stroke-width="1.5"/>
<line x1="47.40" y1="628.25" x2="52.00" y2="628.25" stroke="#000" stroke-width="1.5"/>
<line x1="47.40" y1="616.97" x2="52.00" y2="616.97" stroke="#000" stroke-width="1.5"/>
<line x1="47.40" y1="605.70" x2="54.90" y2="605.70" stroke="#000" stroke-width="2.0"/>
<line x1="47.40" y1="594.42" x2="52.00" y2="594.42" stroke="#000" stroke-width="1.5"/>
<line x1="47.40" y1="583.15" x2="52.00" y2="583.15" stroke="#000" stroke-width="1.5"/>
<line x1="47.40" y1="571.88" x2="52.00" y2="571.88" stroke="#000" stroke-width="1.5"/>
<line x1="47.40" y1="560.60" x2="54.90" y2="560.60" stroke="#000" stroke-width="2.0"/>
<line x1="47.40" y1="549.32" x2="52.00" y2="549.32" stroke="#000" stroke-width="1.5"/>
<line x1="47.40" y1="538.05" x2="52.00" y2="538.05" stroke="#000" stroke-width="1.5"/>
<line x1="47.40" y1="526.77" x2="52.00" y2="526.77" stroke="#000" stroke-width="1.5"/>
<line x1="47.40" y1="515.50" x2="54.90" y2="515.50" stroke="#000" stroke-width="2.0"/>
<line x1="47.40" y1="504.23" x2="52.00" y2="504.23" stroke="#000" stroke-width="1.5"/>
<line x1="47.40" y1="492.95" x2="52.00" y2="492.95" stroke="#000" stroke-width="1.5"/>
<line x1="47.40" y1="481.68" x2="52.00" y2="481.68" stroke="#000" stroke-width="1.5"/>
<line x1="47.40" y1="470.40" x2="54.90" y2="470.40" stroke="#000" stroke-width="2.0"/>
<line x1="47.40" y1="459.12" x2="52.00" y2="459.12" stroke="#000" stroke-width="1.5"/>
<line x1="47.40" y1="447.85" x2="52.00" y2="447.85" stroke="#000" stroke-width="1.5"/>
<line x1="47.40" y1="436.57" x2="52.00" y2="436.57" stroke="#000" stroke-width="1.5"/>
<line x1="47.40" y1="425.30" x2="54.90" y2="425.30" stroke="#000" stroke-width="2.0"/>
<path d="M47.40,425.30H264.60V650.80" fill="none" stroke="#000" stroke-width="1.4" stroke-linecap="square"/>
<path d="M47.40,425.30V650.80H264.60" fill="none" stroke="#000" stroke-width="1.7" stroke-linecap="square"/>
<text x="47.4" y="665.1" font-size="11.2" text-anchor="middle" textLength="23.8" lengthAdjust="spacingAndGlyphs">1.50</text>
<text x="83.6" y="665.1" font-size="11.2" text-anchor="middle" textLength="23.8" lengthAdjust="spacingAndGlyphs">1.75</text>
<text x="119.8" y="665.1" font-size="11.2" text-anchor="middle" textLength="23.8" lengthAdjust="spacingAndGlyphs">2.00</text>
<text x="156.0" y="665.1" font-size="11.2" text-anchor="middle" textLength="23.8" lengthAdjust="spacingAndGlyphs">2.25</text>
<text x="192.2" y="665.1" font-size="11.2" text-anchor="middle" textLength="23.8" lengthAdjust="spacingAndGlyphs">2.50</text>
<text x="228.4" y="665.1" font-size="11.2" text-anchor="middle" textLength="23.8" lengthAdjust="spacingAndGlyphs">2.75</text>
<text x="264.6" y="665.1" font-size="11.2" text-anchor="middle" textLength="23.8" lengthAdjust="spacingAndGlyphs">3.00</text>
<text x="41.2" y="654.9" font-size="11.2" text-anchor="end" textLength="17.0" lengthAdjust="spacingAndGlyphs">0.0</text>
<text x="41.2" y="609.8" font-size="11.2" text-anchor="end" textLength="17.0" lengthAdjust="spacingAndGlyphs">0.2</text>
<text x="41.2" y="564.7" font-size="11.2" text-anchor="end" textLength="17.0" lengthAdjust="spacingAndGlyphs">0.4</text>
<text x="41.2" y="519.6" font-size="11.2" text-anchor="end" textLength="17.0" lengthAdjust="spacingAndGlyphs">0.6</text>
<text x="41.2" y="474.5" font-size="11.2" text-anchor="end" textLength="17.0" lengthAdjust="spacingAndGlyphs">0.8</text>
<text x="41.2" y="429.4" font-size="11.2" text-anchor="end" textLength="17.0" lengthAdjust="spacingAndGlyphs">1.0</text><line x1="341.20" y1="650.80" x2="341.20" y2="643.30" stroke="#000" stroke-width="2.0"/>
<line x1="348.45" y1="650.80" x2="348.45" y2="646.20" stroke="#000" stroke-width="1.5"/>
<line x1="355.69" y1="650.80" x2="355.69" y2="646.20" stroke="#000" stroke-width="1.5"/>
<line x1="362.94" y1="650.80" x2="362.94" y2="646.20" stroke="#000" stroke-width="1.5"/>
<line x1="370.19" y1="650.80" x2="370.19" y2="646.20" stroke="#000" stroke-width="1.5"/>
<line x1="377.43" y1="650.80" x2="377.43" y2="643.30" stroke="#000" stroke-width="2.0"/>
<line x1="384.68" y1="650.80" x2="384.68" y2="646.20" stroke="#000" stroke-width="1.5"/>
<line x1="391.93" y1="650.80" x2="391.93" y2="646.20" stroke="#000" stroke-width="1.5"/>
<line x1="399.17" y1="650.80" x2="399.17" y2="646.20" stroke="#000" stroke-width="1.5"/>
<line x1="406.42" y1="650.80" x2="406.42" y2="646.20" stroke="#000" stroke-width="1.5"/>
<line x1="413.67" y1="650.80" x2="413.67" y2="643.30" stroke="#000" stroke-width="2.0"/>
<line x1="420.91" y1="650.80" x2="420.91" y2="646.20" stroke="#000" stroke-width="1.5"/>
<line x1="428.16" y1="650.80" x2="428.16" y2="646.20" stroke="#000" stroke-width="1.5"/>
<line x1="435.41" y1="650.80" x2="435.41" y2="646.20" stroke="#000" stroke-width="1.5"/>
<line x1="442.65" y1="650.80" x2="442.65" y2="646.20" stroke="#000" stroke-width="1.5"/>
<line x1="449.90" y1="650.80" x2="449.90" y2="643.30" stroke="#000" stroke-width="2.0"/>
<line x1="457.15" y1="650.80" x2="457.15" y2="646.20" stroke="#000" stroke-width="1.5"/>
<line x1="464.39" y1="650.80" x2="464.39" y2="646.20" stroke="#000" stroke-width="1.5"/>
<line x1="471.64" y1="650.80" x2="471.64" y2="646.20" stroke="#000" stroke-width="1.5"/>
<line x1="478.89" y1="650.80" x2="478.89" y2="646.20" stroke="#000" stroke-width="1.5"/>
<line x1="486.13" y1="650.80" x2="486.13" y2="643.30" stroke="#000" stroke-width="2.0"/>
<line x1="493.38" y1="650.80" x2="493.38" y2="646.20" stroke="#000" stroke-width="1.5"/>
<line x1="500.63" y1="650.80" x2="500.63" y2="646.20" stroke="#000" stroke-width="1.5"/>
<line x1="507.87" y1="650.80" x2="507.87" y2="646.20" stroke="#000" stroke-width="1.5"/>
<line x1="515.12" y1="650.80" x2="515.12" y2="646.20" stroke="#000" stroke-width="1.5"/>
<line x1="522.37" y1="650.80" x2="522.37" y2="643.30" stroke="#000" stroke-width="2.0"/>
<line x1="529.61" y1="650.80" x2="529.61" y2="646.20" stroke="#000" stroke-width="1.5"/>
<line x1="536.86" y1="650.80" x2="536.86" y2="646.20" stroke="#000" stroke-width="1.5"/>
<line x1="544.11" y1="650.80" x2="544.11" y2="646.20" stroke="#000" stroke-width="1.5"/>
<line x1="551.35" y1="650.80" x2="551.35" y2="646.20" stroke="#000" stroke-width="1.5"/>
<line x1="558.60" y1="650.80" x2="558.60" y2="643.30" stroke="#000" stroke-width="2.0"/>
<line x1="341.20" y1="650.80" x2="348.70" y2="650.80" stroke="#000" stroke-width="2.0"/>
<line x1="341.20" y1="639.52" x2="345.80" y2="639.52" stroke="#000" stroke-width="1.5"/>
<line x1="341.20" y1="628.25" x2="345.80" y2="628.25" stroke="#000" stroke-width="1.5"/>
<line x1="341.20" y1="616.97" x2="345.80" y2="616.97" stroke="#000" stroke-width="1.5"/>
<line x1="341.20" y1="605.70" x2="348.70" y2="605.70" stroke="#000" stroke-width="2.0"/>
<line x1="341.20" y1="594.42" x2="345.80" y2="594.42" stroke="#000" stroke-width="1.5"/>
<line x1="341.20" y1="583.15" x2="345.80" y2="583.15" stroke="#000" stroke-width="1.5"/>
<line x1="341.20" y1="571.88" x2="345.80" y2="571.88" stroke="#000" stroke-width="1.5"/>
<line x1="341.20" y1="560.60" x2="348.70" y2="560.60" stroke="#000" stroke-width="2.0"/>
<line x1="341.20" y1="549.32" x2="345.80" y2="549.32" stroke="#000" stroke-width="1.5"/>
<line x1="341.20" y1="538.05" x2="345.80" y2="538.05" stroke="#000" stroke-width="1.5"/>
<line x1="341.20" y1="526.77" x2="345.80" y2="526.77" stroke="#000" stroke-width="1.5"/>
<line x1="341.20" y1="515.50" x2="348.70" y2="515.50" stroke="#000" stroke-width="2.0"/>
<line x1="341.20" y1="504.23" x2="345.80" y2="504.23" stroke="#000" stroke-width="1.5"/>
<line x1="341.20" y1="492.95" x2="345.80" y2="492.95" stroke="#000" stroke-width="1.5"/>
<line x1="341.20" y1="481.68" x2="345.80" y2="481.68" stroke="#000" stroke-width="1.5"/>
<line x1="341.20" y1="470.40" x2="348.70" y2="470.40" stroke="#000" stroke-width="2.0"/>
<line x1="341.20" y1="459.12" x2="345.80" y2="459.12" stroke="#000" stroke-width="1.5"/>
<line x1="341.20" y1="447.85" x2="345.80" y2="447.85" stroke="#000" stroke-width="1.5"/>
<line x1="341.20" y1="436.57" x2="345.80" y2="436.57" stroke="#000" stroke-width="1.5"/>
<line x1="341.20" y1="425.30" x2="348.70" y2="425.30" stroke="#000" stroke-width="2.0"/>
<path d="M341.20,425.30H558.60V650.80" fill="none" stroke="#000" stroke-width="1.4" stroke-linecap="square"/>
<path d="M341.20,425.30V650.80H558.60" fill="none" stroke="#000" stroke-width="1.7" stroke-linecap="square"/>
<text x="341.2" y="665.1" font-size="11.2" text-anchor="middle" textLength="23.8" lengthAdjust="spacingAndGlyphs">1.50</text>
<text x="377.4" y="665.1" font-size="11.2" text-anchor="middle" textLength="23.8" lengthAdjust="spacingAndGlyphs">1.75</text>
<text x="413.7" y="665.1" font-size="11.2" text-anchor="middle" textLength="23.8" lengthAdjust="spacingAndGlyphs">2.00</text>
<text x="449.9" y="665.1" font-size="11.2" text-anchor="middle" textLength="23.8" lengthAdjust="spacingAndGlyphs">2.25</text>
<text x="486.1" y="665.1" font-size="11.2" text-anchor="middle" textLength="23.8" lengthAdjust="spacingAndGlyphs">2.50</text>
<text x="522.4" y="665.1" font-size="11.2" text-anchor="middle" textLength="23.8" lengthAdjust="spacingAndGlyphs">2.75</text>
<text x="558.6" y="665.1" font-size="11.2" text-anchor="middle" textLength="23.8" lengthAdjust="spacingAndGlyphs">3.00</text>
<text x="335.7" y="654.9" font-size="11.2" text-anchor="end" textLength="17.0" lengthAdjust="spacingAndGlyphs">0.0</text>
<text x="335.7" y="609.8" font-size="11.2" text-anchor="end" textLength="17.0" lengthAdjust="spacingAndGlyphs">0.2</text>
<text x="335.7" y="564.7" font-size="11.2" text-anchor="end" textLength="17.0" lengthAdjust="spacingAndGlyphs">0.4</text>
<text x="335.7" y="519.6" font-size="11.2" text-anchor="end" textLength="17.0" lengthAdjust="spacingAndGlyphs">0.6</text>
<text x="335.7" y="474.5" font-size="11.2" text-anchor="end" textLength="17.0" lengthAdjust="spacingAndGlyphs">0.8</text>
<text x="335.7" y="429.4" font-size="11.2" text-anchor="end" textLength="17.0" lengthAdjust="spacingAndGlyphs">1.0</text><text transform="translate(12.2,181.7) rotate(-90)" font-size="16" text-anchor="middle" textLength="140" lengthAdjust="spacingAndGlyphs">LIF signal (arb. u.)</text><text transform="translate(12.1,538.0) rotate(-90)" font-size="16" text-anchor="middle" textLength="140" lengthAdjust="spacingAndGlyphs">LIF signal (arb. u.)</text><text transform="translate(306.8,538.0) rotate(-90)" font-size="16" text-anchor="middle" textLength="140" lengthAdjust="spacingAndGlyphs">LIF signal (arb. u.)</text><text x="302.5" y="393.3" font-size="15.3" text-anchor="middle" textLength="90.5" lengthAdjust="spacingAndGlyphs">Time <tspan font-style="italic">t</tspan> (ms)</text><text x="155.6" y="685.1" font-size="15.3" text-anchor="middle" textLength="90.5" lengthAdjust="spacingAndGlyphs">Time <tspan font-style="italic">t</tspan> (ms)</text><text x="450.2" y="685.1" font-size="15.3" text-anchor="middle" textLength="90.5" lengthAdjust="spacingAndGlyphs">Time <tspan font-style="italic">t</tspan> (ms)</text><text x="63.0" y="29.4" font-size="16" text-anchor="start" textLength="14.5" lengthAdjust="spacingAndGlyphs">a)</text><text x="58.6" y="447.9" font-size="16" text-anchor="start" textLength="15.0" lengthAdjust="spacingAndGlyphs">b)</text><line x1="62.4" y1="46.80" x2="96.7" y2="46.80" stroke="#3a4aa0" stroke-width="2.6"/><text x="108.7" y="52.0" font-size="15.6" text-anchor="start" textLength="63.0" lengthAdjust="spacingAndGlyphs">445 m/s</text><line x1="62.4" y1="69.55" x2="96.7" y2="69.55" stroke="#8a2d94" stroke-width="2.6"/><text x="108.7" y="74.8" font-size="15.6" text-anchor="start" textLength="63.0" lengthAdjust="spacingAndGlyphs">400 m/s</text><line x1="62.4" y1="92.30" x2="96.7" y2="92.30" stroke="#3f7e3b" stroke-width="2.6"/><text x="108.7" y="97.5" font-size="15.6" text-anchor="start" textLength="63.0" lengthAdjust="spacingAndGlyphs">350 m/s</text><line x1="62.4" y1="115.05" x2="96.7" y2="115.05" stroke="#808080" stroke-width="2.6"/><text x="108.7" y="120.2" font-size="15.6" text-anchor="start" textLength="119.4" lengthAdjust="spacingAndGlyphs">Decelerator off</text><rect x="402.8" y="11.05" width="146.1" height="152.9" fill="#000"/>
<clipPath id="ci"><rect x="402.8" y="11.05" width="146.1" height="152.9"/></clipPath>
<filter id="nb" x="-2%" y="-2%" width="104%" height="104%"><feGaussianBlur stdDeviation="0.35"/></filter>
<g clip-path="url(#ci)">
<polygon points="538.4,88.0 538.4,88.1 538.4,88.3 538.3,88.6 538.2,88.9 538.1,89.3 538.0,89.7 537.8,90.1 537.6,90.6 537.4,91.1 537.2,91.7 536.9,92.3 536.6,92.9 536.3,93.5 536.0,94.2 535.7,94.9 535.3,95.6 534.9,96.3 534.5,97.1 534.0,97.8 533.6,98.6 533.1,99.4 532.6,100.3 532.1,101.1 531.5,102.0 530.9,102.8 530.4,103.7 529.7,104.6 529.1,105.5 528.5,106.4 527.8,107.3 527.1,108.2 526.4,109.2 525.7,110.1 525.0,111.1 524.3,112.0 523.5,113.0 522.7,113.9 521.9,114.9 521.1,115.9 520.3,116.8 519.5,117.8 518.6,118.8 517.8,119.7 516.9,120.7 516.0,121.6 515.2,122.6 514.3,123.6 513.4,124.5 512.5,125.5 511.5,126.4 510.6,127.3 509.7,128.2 508.8,129.2 507.8,130.1 506.9,131.0 505.9,131.9 505.0,132.7 504.0,133.6 503.1,134.5 502.1,135.3 501.2,136.1 500.2,136.9 499.3,137.8 498.4,138.5 497.4,139.3 496.5,140.1 495.5,140.8 494.6,141.5 493.7,142.2 492.8,142.9 491.9,143.6 491.0,144.3 490.1,144.9 489.2,145.5 488.4,146.1 487.5,146.7 486.7,147.2 485.9,147.8 485.1,148.3 484.3,148.8 483.5,149.3 482.7,149.7 482.0,150.1 481.3,150.5 480.6,150.9 479.9,151.3 479.2,151.6 478.6,151.9 478.0,152.2 477.4,152.5 476.9,152.7 476.4,152.9 475.9,153.1 475.5,153.2 475.0,153.4 474.7,153.5 474.4,153.6 474.1,153.6 473.9,153.7 473.8,153.7 473.7,153.7 473.5,153.6 473.2,153.6 472.9,153.5 472.6,153.4 472.1,153.2 471.7,153.1 471.2,152.9 470.7,152.7 470.2,152.5 469.6,152.2 469.0,151.9 468.4,151.6 467.7,151.3 467.0,150.9 466.3,150.5 465.6,150.1 464.9,149.7 464.1,149.3 463.3,148.8 462.5,148.3 461.7,147.8 460.9,147.2 460.1,146.7 459.2,146.1 458.4,145.5 457.5,144.9 456.6,144.3 455.7,143.6 454.8,142.9 453.9,142.2 453.0,141.5 452.1,140.8 451.1,140.1 450.2,139.3 449.2,138.5 448.3,137.8 447.4,136.9 446.4,136.1 445.5,135.3 444.5,134.5 443.6,133.6 442.6,132.7 441.7,131.9 440.7,131.0 439.8,130.1 438.8,129.2 437.9,128.2 437.0,127.3 436.1,126.4 435.1,125.5 434.2,124.5 433.3,123.6 432.4,122.6 431.6,121.6 430.7,120.7 429.8,119.7 429.0,118.8 428.1,117.8 427.3,116.8 426.5,115.9 425.7,114.9 424.9,113.9 424.1,113.0 423.3,112.0 422.6,111.1 421.9,110.1 421.2,109.2 420.5,108.2 419.8,107.3 419.1,106.4 418.5,105.5 417.9,104.6 417.2,103.7 416.7,102.8 416.1,102.0 415.5,101.1 415.0,100.3 414.5,99.4 414.0,98.6 413.6,97.8 413.1,97.1 412.7,96.3 412.3,95.6 411.9,94.9 411.6,94.2 411.3,93.5 411.0,92.9 410.7,92.3 410.4,91.7 410.2,91.1 410.0,90.6 409.8,90.1 409.6,89.7 409.5,89.3 409.4,88.9 409.3,88.6 409.2,88.3 409.2,88.1 409.2,88.0 409.2,87.9 409.2,87.7 409.3,87.4 409.4,87.1 409.5,86.7 409.6,86.3 409.8,85.9 410.0,85.4 410.2,84.9 410.4,84.3 410.7,83.7 411.0,83.1 411.3,82.5 411.6,81.8 411.9,81.1 412.3,80.4 412.7,79.7 413.1,78.9 413.6,78.2 414.0,77.4 414.5,76.6 415.0,75.7 415.5,74.9 416.1,74.0 416.7,73.2 417.2,72.3 417.9,71.4 418.5,70.5 419.1,69.6 419.8,68.7 420.5,67.8 421.2,66.8 421.9,65.9 422.6,64.9 423.3,64.0 424.1,63.0 424.9,62.1 425.7,61.1 426.5,60.1 427.3,59.2 428.1,58.2 429.0,57.2 429.8,56.3 430.7,55.3 431.6,54.4 432.4,53.4 433.3,52.4 434.2,51.5 435.1,50.5 436.1,49.6 437.0,48.7 437.9,47.8 438.8,46.8 439.8,45.9 440.7,45.0 441.7,44.1 442.6,43.3 443.6,42.4 444.5,41.5 445.5,40.7 446.4,39.9 447.4,39.1 448.3,38.2 449.2,37.5 450.2,36.7 451.1,35.9 452.1,35.2 453.0,34.5 453.9,33.8 454.8,33.1 455.7,32.4 456.6,31.7 457.5,31.1 458.4,30.5 459.2,29.9 460.1,29.3 460.9,28.8 461.7,28.2 462.5,27.7 463.3,27.2 464.1,26.7 464.9,26.3 465.6,25.9 466.3,25.5 467.0,25.1 467.7,24.7 468.4,24.4 469.0,24.1 469.6,23.8 470.2,23.5 470.7,23.3 471.2,23.1 471.7,22.9 472.1,22.8 472.6,22.6 472.9,22.5 473.2,22.4 473.5,22.4 473.7,22.3 473.8,22.3 473.9,22.3 474.1,22.4 474.4,22.4 474.7,22.5 475.0,22.6 475.5,22.8 475.9,22.9 476.4,23.1 476.9,23.3 477.4,23.5 478.0,23.8 478.6,24.1 479.2,24.4 479.9,24.7 480.6,25.1 481.3,25.5 482.0,25.9 482.7,26.3 483.5,26.7 484.3,27.2 485.1,27.7 485.9,28.2 486.7,28.8 487.5,29.3 488.4,29.9 489.2,30.5 490.1,31.1 491.0,31.7 491.9,32.4 492.8,33.1 493.7,33.8 494.6,34.5 495.5,35.2 496.5,35.9 497.4,36.7 498.4,37.5 499.3,38.2 500.2,39.1 501.2,39.9 502.1,40.7 503.1,41.5 504.0,42.4 505.0,43.3 505.9,44.1 506.9,45.0 507.8,45.9 508.8,46.8 509.7,47.8 510.6,48.7 511.5,49.6 512.5,50.5 513.4,51.5 514.3,52.4 515.2,53.4 516.0,54.4 516.9,55.3 517.8,56.3 518.6,57.2 519.5,58.2 520.3,59.2 521.1,60.1 521.9,61.1 522.7,62.1 523.5,63.0 524.3,64.0 525.0,64.9 525.7,65.9 526.4,66.8 527.1,67.8 527.8,68.7 528.5,69.6 529.1,70.5 529.7,71.4 530.4,72.3 530.9,73.2 531.5,74.0 532.1,74.9 532.6,75.7 533.1,76.6 533.6,77.4 534.0,78.2 534.5,78.9 534.9,79.7 535.3,80.4 535.7,81.1 536.0,81.8 536.3,82.5 536.6,83.1 536.9,83.7 537.2,84.3 537.4,84.9 537.6,85.4 537.8,85.9 538.0,86.3 538.1,86.7 538.2,87.1 538.3,87.4 538.4,87.7 538.4,87.9" fill="#2c0b05"/>
<g filter="url(#nb)"><g transform="translate(402.8,11.05) scale(1.5219,1.5290)" shape-rendering="crispEdges"><path fill="#210802" d="M20 0h1v1h-1zM27 2h1v1h-1zM72 2h1v1h-1zM49 7h1v1h-1zM93 7h1v1h-1zM27 8h1v1h-1zM30 8h1v1h-1zM40 8h1v1h-1zM12 9h1v1h-1zM15 10h1v1h-1zM44 10h1v1h-1zM24 11h1v1h-1zM48 11h1v1h-1zM51 12h1v1h-1zM29 13h1v1h-1zM35 13h1v1h-1zM11 14h1v1h-1zM58 14h1v1h-1zM4 16h1v1h-1zM6 16h1v1h-1zM31 16h1v1h-1zM25 17h1v1h-1zM38 17h1v1h-1zM42 17h1v1h-1zM29 18h1v1h-1zM31 18h1v1h-1zM40 18h1v1h-1zM41 18h1v1h-1zM63 18h1v1h-1zM47 19h1v1h-1zM52 19h1v1h-1zM82 19h1v1h-1zM36 20h1v1h-1zM48 20h1v1h-1zM54 20h1v1h-1zM74 20h1v1h-1zM85 20h1v1h-1zM21 21h1v1h-1zM34 21h1v1h-1zM44 21h1v1h-1zM87 21h1v1h-1zM0 22h1v1h-1zM27 22h1v1h-1zM45 22h1v1h-1zM25 23h1v1h-1zM42 23h1v1h-1zM43 23h1v1h-1zM59 23h1v1h-1zM65 23h1v1h-1zM18 24h1v1h-1zM51 24h1v1h-1zM53 24h1v1h-1zM57 24h1v1h-1zM41 25h1v1h-1zM51 25h1v1h-1zM52 25h1v1h-1zM61 25h1v1h-1zM93 25h1v1h-1zM26 26h1v1h-1zM29 26h1v1h-1zM38 26h1v1h-1zM49 26h1v1h-1zM57 26h1v1h-1zM65 26h1v1h-1zM77 26h1v1h-1zM0 27h1v1h-1zM4 27h1v1h-1zM27 27h1v1h-1zM32 27h1v1h-1zM41 27h1v1h-1zM52 27h1v1h-1zM68 27h1v1h-1zM87 27h1v1h-1zM29 28h1v1h-1zM47 28h1v1h-1zM70 28h1v1h-1zM87 28h1v1h-1zM72 29h1v1h-1zM17 30h1v1h-1zM28 30h1v1h-1zM43 30h1v1h-1zM72 30h1v1h-1zM74 30h1v1h-1zM77 30h1v1h-1zM31 31h1v1h-1zM34 31h1v1h-1zM42 31h1v1h-1zM46 31h1v1h-1zM29 32h1v1h-1zM74 32h1v1h-1zM75 32h1v1h-1zM27 33h1v1h-1zM39 33h1v1h-1zM50 33h1v1h-1zM80 33h1v1h-1zM1 34h1v1h-1zM10 34h1v1h-1zM15 34h1v1h-1zM19 34h1v1h-1zM28 34h1v1h-1zM30 34h1v1h-1zM31 34h1v1h-1zM56 34h1v1h-1zM68 34h1v1h-1zM72 34h1v1h-1zM78 34h1v1h-1zM16 35h1v1h-1zM55 35h1v1h-1zM58 35h1v1h-1zM61 35h1v1h-1zM71 35h1v1h-1zM92 35h1v1h-1zM17 36h1v1h-1zM29 36h1v1h-1zM54 36h1v1h-1zM86 36h1v1h-1zM5 37h1v1h-1zM17 37h1v1h-1zM18 37h1v1h-1zM36 37h1v1h-1zM47 37h1v1h-1zM49 37h1v1h-1zM51 37h1v1h-1zM74 37h1v1h-1zM77 37h1v1h-1zM9 38h1v1h-1zM14 38h1v1h-1zM32 38h1v1h-1zM65 38h1v1h-1zM71 38h1v1h-1zM72 38h1v1h-1zM78 38h1v1h-1zM81 38h1v1h-1zM41 39h1v1h-1zM42 39h1v1h-1zM73 39h1v1h-1zM90 39h1v1h-1zM18 40h1v1h-1zM59 40h1v1h-1zM62 40h1v1h-1zM1 41h1v1h-1zM14 41h1v1h-1zM27 41h1v1h-1zM28 41h1v1h-1zM54 41h1v1h-1zM61 41h1v1h-1zM11 42h1v1h-1zM30 42h1v1h-1zM45 42h1v1h-1zM51 42h1v1h-1zM54 42h1v1h-1zM58 42h1v1h-1zM83 42h1v1h-1zM90 42h1v1h-1zM68 43h1v1h-1zM46 44h1v1h-1zM50 44h1v1h-1zM60 44h1v1h-1zM19 45h1v1h-1zM62 45h1v1h-1zM70 45h1v1h-1zM81 45h1v1h-1zM82 45h1v1h-1zM84 45h1v1h-1zM8 46h1v1h-1zM22 46h1v1h-1zM31 46h1v1h-1zM55 46h1v1h-1zM65 46h1v1h-1zM77 46h1v1h-1zM10 47h1v1h-1zM68 47h1v1h-1zM11 48h1v1h-1zM31 48h1v1h-1zM42 48h1v1h-1zM49 48h1v1h-1zM61 48h1v1h-1zM91 48h1v1h-1zM7 49h1v1h-1zM8 49h1v1h-1zM51 49h1v1h-1zM87 50h1v1h-1zM94 50h1v1h-1zM7 51h1v1h-1zM14 51h1v1h-1zM17 51h1v1h-1zM22 51h1v1h-1zM29 51h1v1h-1zM47 51h1v1h-1zM64 51h1v1h-1zM66 51h1v1h-1zM27 52h1v1h-1zM30 52h1v1h-1zM83 52h1v1h-1zM93 52h1v1h-1zM12 53h1v1h-1zM23 53h1v1h-1zM37 53h1v1h-1zM48 53h1v1h-1zM66 53h1v1h-1zM8 54h1v1h-1zM65 54h1v1h-1zM68 54h1v1h-1zM75 54h1v1h-1zM91 54h1v1h-1zM36 55h1v1h-1zM40 55h1v1h-1zM72 55h1v1h-1zM78 55h1v1h-1zM82 55h1v1h-1zM17 56h1v1h-1zM40 57h1v1h-1zM45 57h1v1h-1zM70 57h1v1h-1zM75 57h1v1h-1zM84 57h1v1h-1zM6 58h1v1h-1zM20 58h1v1h-1zM25 58h1v1h-1zM34 58h1v1h-1zM35 58h1v1h-1zM37 58h1v1h-1zM48 58h1v1h-1zM53 58h1v1h-1zM56 58h1v1h-1zM62 58h1v1h-1zM65 58h1v1h-1zM66 58h1v1h-1zM81 58h1v1h-1zM15 59h1v1h-1zM21 59h1v1h-1zM34 59h1v1h-1zM37 59h1v1h-1zM72 59h1v1h-1zM83 59h1v1h-1zM87 59h1v1h-1zM36 60h1v1h-1zM83 60h1v1h-1zM89 60h1v1h-1zM26 61h1v1h-1zM35 61h1v1h-1zM36 61h1v1h-1zM47 61h1v1h-1zM49 61h1v1h-1zM54 61h1v1h-1zM55 61h1v1h-1zM82 61h1v1h-1zM86 61h1v1h-1zM92 61h1v1h-1zM0 62h1v1h-1zM5 62h1v1h-1zM13 62h1v1h-1zM39 62h1v1h-1zM61 62h1v1h-1zM65 62h1v1h-1zM76 62h1v1h-1zM42 63h1v1h-1zM43 63h1v1h-1zM51 63h1v1h-1zM73 63h1v1h-1zM4 64h1v1h-1zM19 64h1v1h-1zM20 64h1v1h-1zM46 64h1v1h-1zM75 64h1v1h-1zM76 64h1v1h-1zM6 65h1v1h-1zM20 65h1v1h-1zM55 65h1v1h-1zM60 65h1v1h-1zM30 66h1v1h-1zM31 66h1v1h-1zM52 66h1v1h-1zM68 66h1v1h-1zM19 67h1v1h-1zM29 67h1v1h-1zM37 67h1v1h-1zM40 67h1v1h-1zM42 67h1v1h-1zM49 67h1v1h-1zM51 67h1v1h-1zM55 67h1v1h-1zM57 67h1v1h-1zM68 67h1v1h-1zM23 68h1v1h-1zM25 68h1v1h-1zM50 68h1v1h-1zM68 68h1v1h-1zM72 68h1v1h-1zM86 68h1v1h-1zM1 69h1v1h-1zM12 69h1v1h-1zM37 69h1v1h-1zM74 69h1v1h-1zM34 70h1v1h-1zM36 70h1v1h-1zM67 70h1v1h-1zM79 70h1v1h-1zM18 71h1v1h-1zM29 71h1v1h-1zM42 71h1v1h-1zM49 71h1v1h-1zM20 72h1v1h-1zM45 72h1v1h-1zM64 72h1v1h-1zM12 73h1v1h-1zM36 73h1v1h-1zM42 73h1v1h-1zM69 73h1v1h-1zM7 74h1v1h-1zM37 74h1v1h-1zM44 74h1v1h-1zM22 75h1v1h-1zM27 75h1v1h-1zM53 75h1v1h-1zM61 75h1v1h-1zM62 75h1v1h-1zM71 75h1v1h-1zM93 75h1v1h-1zM3 76h1v1h-1zM24 76h1v1h-1zM43 76h1v1h-1zM61 76h1v1h-1zM71 76h1v1h-1zM77 76h1v1h-1zM79 76h1v1h-1zM31 77h1v1h-1zM42 77h1v1h-1zM54 77h1v1h-1zM64 77h1v1h-1zM42 78h1v1h-1zM45 78h1v1h-1zM48 78h1v1h-1zM56 79h1v1h-1zM8 80h1v1h-1zM31 80h1v1h-1zM35 80h1v1h-1zM36 80h1v1h-1zM53 80h1v1h-1zM58 80h1v1h-1zM61 80h1v1h-1zM44 81h1v1h-1zM23 82h1v1h-1zM51 84h1v1h-1zM18 85h1v1h-1zM88 85h1v1h-1zM1 86h1v1h-1zM65 86h1v1h-1zM78 86h1v1h-1zM75 90h1v1h-1zM89 91h1v1h-1zM4 92h1v1h-1zM56 92h1v1h-1zM85 92h1v1h-1zM90 92h1v1h-1zM17 93h1v1h-1zM33 93h1v1h-1zM63 93h1v1h-1zM19 94h1v1h-1zM6 95h1v1h-1zM60 98h1v1h-1zM82 98h1v1h-1zM58 99h1v1h-1zM67 99h1v1h-1zM81 99h1v1h-1z"/><path fill="#491307" d="M1 0h1v1h-1zM15 0h1v1h-1zM44 0h1v1h-1zM57 0h1v1h-1zM66 0h1v1h-1zM4 1h1v1h-1zM16 1h1v1h-1zM34 1h1v1h-1zM67 1h1v1h-1zM72 1h1v1h-1zM83 1h1v1h-1zM54 2h1v1h-1zM57 2h1v1h-1zM81 2h1v1h-1zM0 3h1v1h-1zM1 3h1v1h-1zM18 3h1v1h-1zM22 3h1v1h-1zM37 3h1v1h-1zM75 3h1v1h-1zM77 3h1v1h-1zM94 3h1v1h-1zM4 4h1v1h-1zM9 4h1v1h-1zM51 4h1v1h-1zM65 4h1v1h-1zM94 4h1v1h-1zM67 5h1v1h-1zM6 6h1v1h-1zM36 6h1v1h-1zM71 6h1v1h-1zM84 6h1v1h-1zM18 7h1v1h-1zM81 7h1v1h-1zM15 8h1v1h-1zM29 8h1v1h-1zM44 8h1v1h-1zM45 8h1v1h-1zM48 8h1v1h-1zM49 8h1v1h-1zM50 8h1v1h-1zM56 8h1v1h-1zM64 8h1v1h-1zM81 8h1v1h-1zM3 9h1v1h-1zM4 9h1v1h-1zM35 9h1v1h-1zM43 9h1v1h-1zM46 9h1v1h-1zM49 9h1v1h-1zM56 9h1v1h-1zM11 10h1v1h-1zM43 10h1v1h-1zM45 10h1v1h-1zM51 10h1v1h-1zM62 10h1v1h-1zM63 10h1v1h-1zM86 10h1v1h-1zM15 11h1v1h-1zM38 11h1v1h-1zM42 11h1v1h-1zM43 11h1v1h-1zM44 11h1v1h-1zM50 11h1v1h-1zM54 11h1v1h-1zM83 11h1v1h-1zM1 12h1v1h-1zM20 12h1v1h-1zM23 12h1v1h-1zM40 12h1v1h-1zM41 12h1v1h-1zM42 12h1v1h-1zM44 12h1v1h-1zM45 12h1v1h-1zM46 12h1v1h-1zM47 12h1v1h-1zM49 12h1v1h-1zM53 12h1v1h-1zM62 12h1v1h-1zM90 12h1v1h-1zM15 13h1v1h-1zM38 13h1v1h-1zM39 13h1v1h-1zM55 13h1v1h-1zM58 13h1v1h-1zM64 13h1v1h-1zM1 14h1v1h-1zM25 14h1v1h-1zM36 14h1v1h-1zM37 14h1v1h-1zM42 14h1v1h-1zM43 14h1v1h-1zM46 14h1v1h-1zM48 14h1v1h-1zM75 14h1v1h-1zM90 14h1v1h-1zM91 14h1v1h-1zM12 15h1v1h-1zM44 15h1v1h-1zM48 15h1v1h-1zM50 15h1v1h-1zM57 15h1v1h-1zM68 15h1v1h-1zM8 16h1v1h-1zM33 16h1v1h-1zM39 16h1v1h-1zM41 16h1v1h-1zM44 16h1v1h-1zM50 16h1v1h-1zM56 16h1v1h-1zM58 16h1v1h-1zM59 16h1v1h-1zM2 17h1v1h-1zM31 17h1v1h-1zM33 17h1v1h-1zM35 17h1v1h-1zM37 17h1v1h-1zM39 17h1v1h-1zM41 17h1v1h-1zM43 17h1v1h-1zM46 17h1v1h-1zM48 17h1v1h-1zM51 17h1v1h-1zM55 17h1v1h-1zM57 17h1v1h-1zM59 17h1v1h-1zM38 18h1v1h-1zM47 18h1v1h-1zM51 18h1v1h-1zM58 18h1v1h-1zM59 18h1v1h-1zM69 18h1v1h-1zM89 18h1v1h-1zM0 19h1v1h-1zM3 19h1v1h-1zM6 19h1v1h-1zM10 19h1v1h-1zM23 19h1v1h-1zM27 19h1v1h-1zM31 19h1v1h-1zM33 19h1v1h-1zM37 19h1v1h-1zM42 19h1v1h-1zM44 19h1v1h-1zM50 19h1v1h-1zM58 19h1v1h-1zM59 19h1v1h-1zM61 19h1v1h-1zM65 19h1v1h-1zM68 19h1v1h-1zM71 19h1v1h-1zM75 19h1v1h-1zM92 19h1v1h-1zM1 20h1v1h-1zM2 20h1v1h-1zM31 20h1v1h-1zM37 20h1v1h-1zM38 20h1v1h-1zM43 20h1v1h-1zM44 20h1v1h-1zM47 20h1v1h-1zM49 20h1v1h-1zM50 20h1v1h-1zM84 20h1v1h-1zM7 21h1v1h-1zM27 21h1v1h-1zM28 21h1v1h-1zM31 21h1v1h-1zM33 21h1v1h-1zM39 21h1v1h-1zM40 21h1v1h-1zM48 21h1v1h-1zM52 21h1v1h-1zM56 21h1v1h-1zM60 21h1v1h-1zM71 21h1v1h-1zM4 22h1v1h-1zM5 22h1v1h-1zM32 22h1v1h-1zM40 22h1v1h-1zM47 22h1v1h-1zM55 22h1v1h-1zM62 22h1v1h-1zM71 22h1v1h-1zM91 22h1v1h-1zM92 22h1v1h-1zM13 23h1v1h-1zM28 23h1v1h-1zM30 23h1v1h-1zM36 23h1v1h-1zM39 23h1v1h-1zM41 23h1v1h-1zM44 23h1v1h-1zM46 23h1v1h-1zM47 23h1v1h-1zM50 23h1v1h-1zM53 23h1v1h-1zM56 23h1v1h-1zM64 23h1v1h-1zM67 23h1v1h-1zM85 23h1v1h-1zM12 24h1v1h-1zM24 24h1v1h-1zM28 24h1v1h-1zM33 24h1v1h-1zM35 24h1v1h-1zM37 24h1v1h-1zM45 24h1v1h-1zM46 24h1v1h-1zM52 24h1v1h-1zM55 24h1v1h-1zM61 24h1v1h-1zM64 24h1v1h-1zM87 24h1v1h-1zM0 25h1v1h-1zM11 25h1v1h-1zM22 25h1v1h-1zM27 25h1v1h-1zM31 25h1v1h-1zM37 25h1v1h-1zM38 25h1v1h-1zM39 25h1v1h-1zM40 25h1v1h-1zM45 25h1v1h-1zM48 25h1v1h-1zM49 25h1v1h-1zM50 25h1v1h-1zM67 25h1v1h-1zM69 25h1v1h-1zM0 26h1v1h-1zM5 26h1v1h-1zM23 26h1v1h-1zM24 26h1v1h-1zM36 26h1v1h-1zM39 26h1v1h-1zM48 26h1v1h-1zM53 26h1v1h-1zM58 26h1v1h-1zM59 26h1v1h-1zM62 26h1v1h-1zM67 26h1v1h-1zM70 26h1v1h-1zM6 27h1v1h-1zM21 27h1v1h-1zM22 27h1v1h-1zM25 27h1v1h-1zM28 27h1v1h-1zM29 27h1v1h-1zM35 27h1v1h-1zM46 27h1v1h-1zM50 27h1v1h-1zM59 27h1v1h-1zM63 27h1v1h-1zM71 27h1v1h-1zM73 27h1v1h-1zM82 27h1v1h-1zM86 27h1v1h-1zM89 27h1v1h-1zM13 28h1v1h-1zM16 28h1v1h-1zM33 28h1v1h-1zM38 28h1v1h-1zM49 28h1v1h-1zM52 28h1v1h-1zM53 28h1v1h-1zM58 28h1v1h-1zM59 28h1v1h-1zM60 28h1v1h-1zM62 28h1v1h-1zM67 28h1v1h-1zM78 28h1v1h-1zM83 28h1v1h-1zM88 28h1v1h-1zM5 29h1v1h-1zM9 29h1v1h-1zM14 29h1v1h-1zM19 29h1v1h-1zM23 29h1v1h-1zM24 29h1v1h-1zM25 29h1v1h-1zM36 29h1v1h-1zM42 29h1v1h-1zM47 29h1v1h-1zM49 29h1v1h-1zM50 29h1v1h-1zM52 29h1v1h-1zM53 29h1v1h-1zM61 29h1v1h-1zM68 29h1v1h-1zM69 29h1v1h-1zM76 29h1v1h-1zM92 29h1v1h-1zM18 30h1v1h-1zM22 30h1v1h-1zM23 30h1v1h-1zM25 30h1v1h-1zM41 30h1v1h-1zM50 30h1v1h-1zM58 30h1v1h-1zM60 30h1v1h-1zM64 30h1v1h-1zM76 30h1v1h-1zM87 30h1v1h-1zM18 31h1v1h-1zM21 31h1v1h-1zM23 31h1v1h-1zM27 31h1v1h-1zM39 31h1v1h-1zM40 31h1v1h-1zM43 31h1v1h-1zM44 31h1v1h-1zM49 31h1v1h-1zM53 31h1v1h-1zM56 31h1v1h-1zM68 31h1v1h-1zM71 31h1v1h-1zM74 31h1v1h-1zM77 31h1v1h-1zM82 31h1v1h-1zM83 31h1v1h-1zM91 31h1v1h-1zM0 32h1v1h-1zM17 32h1v1h-1zM19 32h1v1h-1zM21 32h1v1h-1zM25 32h1v1h-1zM33 32h1v1h-1zM37 32h1v1h-1zM46 32h1v1h-1zM54 32h1v1h-1zM62 32h1v1h-1zM67 32h1v1h-1zM70 32h1v1h-1zM77 32h1v1h-1zM87 32h1v1h-1zM90 32h1v1h-1zM15 33h1v1h-1zM18 33h1v1h-1zM19 33h1v1h-1zM24 33h1v1h-1zM31 33h1v1h-1zM32 33h1v1h-1zM33 33h1v1h-1zM43 33h1v1h-1zM58 33h1v1h-1zM60 33h1v1h-1zM67 33h1v1h-1zM76 33h1v1h-1zM86 33h1v1h-1zM92 33h1v1h-1zM94 33h1v1h-1zM2 34h1v1h-1zM8 34h1v1h-1zM11 34h1v1h-1zM23 34h1v1h-1zM25 34h1v1h-1zM27 34h1v1h-1zM32 34h1v1h-1zM51 34h1v1h-1zM53 34h1v1h-1zM63 34h1v1h-1zM66 34h1v1h-1zM67 34h1v1h-1zM76 34h1v1h-1zM77 34h1v1h-1zM91 34h1v1h-1zM19 35h1v1h-1zM28 35h1v1h-1zM33 35h1v1h-1zM39 35h1v1h-1zM46 35h1v1h-1zM51 35h1v1h-1zM57 35h1v1h-1zM64 35h1v1h-1zM66 35h1v1h-1zM69 35h1v1h-1zM73 35h1v1h-1zM75 35h1v1h-1zM91 35h1v1h-1zM11 36h1v1h-1zM20 36h1v1h-1zM22 36h1v1h-1zM23 36h1v1h-1zM25 36h1v1h-1zM32 36h1v1h-1zM37 36h1v1h-1zM38 36h1v1h-1zM45 36h1v1h-1zM46 36h1v1h-1zM47 36h1v1h-1zM51 36h1v1h-1zM61 36h1v1h-1zM64 36h1v1h-1zM68 36h1v1h-1zM69 36h1v1h-1zM71 36h1v1h-1zM3 37h1v1h-1zM12 37h1v1h-1zM21 37h1v1h-1zM37 37h1v1h-1zM40 37h1v1h-1zM60 37h1v1h-1zM62 37h1v1h-1zM63 37h1v1h-1zM65 37h1v1h-1zM69 37h1v1h-1zM75 37h1v1h-1zM81 37h1v1h-1zM84 37h1v1h-1zM89 37h1v1h-1zM7 38h1v1h-1zM11 38h1v1h-1zM13 38h1v1h-1zM18 38h1v1h-1zM21 38h1v1h-1zM22 38h1v1h-1zM23 38h1v1h-1zM24 38h1v1h-1zM25 38h1v1h-1zM28 38h1v1h-1zM29 38h1v1h-1zM30 38h1v1h-1zM31 38h1v1h-1zM35 38h1v1h-1zM40 38h1v1h-1zM43 38h1v1h-1zM58 38h1v1h-1zM60 38h1v1h-1zM61 38h1v1h-1zM68 38h1v1h-1zM74 38h1v1h-1zM76 38h1v1h-1zM80 38h1v1h-1zM1 39h1v1h-1zM5 39h1v1h-1zM6 39h1v1h-1zM8 39h1v1h-1zM12 39h1v1h-1zM16 39h1v1h-1zM17 39h1v1h-1zM18 39h1v1h-1zM26 39h1v1h-1zM34 39h1v1h-1zM38 39h1v1h-1zM40 39h1v1h-1zM43 39h1v1h-1zM44 39h1v1h-1zM45 39h1v1h-1zM49 39h1v1h-1zM60 39h1v1h-1zM66 39h1v1h-1zM70 39h1v1h-1zM72 39h1v1h-1zM77 39h1v1h-1zM79 39h1v1h-1zM82 39h1v1h-1zM83 39h1v1h-1zM85 39h1v1h-1zM91 39h1v1h-1zM5 40h1v1h-1zM10 40h1v1h-1zM11 40h1v1h-1zM12 40h1v1h-1zM15 40h1v1h-1zM17 40h1v1h-1zM29 40h1v1h-1zM30 40h1v1h-1zM33 40h1v1h-1zM36 40h1v1h-1zM38 40h1v1h-1zM39 40h1v1h-1zM53 40h1v1h-1zM60 40h1v1h-1zM66 40h1v1h-1zM73 40h1v1h-1zM77 40h1v1h-1zM78 40h1v1h-1zM80 40h1v1h-1zM89 40h1v1h-1zM9 41h1v1h-1zM12 41h1v1h-1zM15 41h1v1h-1zM16 41h1v1h-1zM20 41h1v1h-1zM23 41h1v1h-1zM30 41h1v1h-1zM31 41h1v1h-1zM37 41h1v1h-1zM39 41h1v1h-1zM40 41h1v1h-1zM44 41h1v1h-1zM47 41h1v1h-1zM48 41h1v1h-1zM56 41h1v1h-1zM57 41h1v1h-1zM60 41h1v1h-1zM68 41h1v1h-1zM74 41h1v1h-1zM15 42h1v1h-1zM21 42h1v1h-1zM24 42h1v1h-1zM28 42h1v1h-1zM37 42h1v1h-1zM47 42h1v1h-1zM52 42h1v1h-1zM56 42h1v1h-1zM61 42h1v1h-1zM63 42h1v1h-1zM69 42h1v1h-1zM70 42h1v1h-1zM75 42h1v1h-1zM77 42h1v1h-1zM82 42h1v1h-1zM84 42h1v1h-1zM86 42h1v1h-1zM92 42h1v1h-1zM8 43h1v1h-1zM11 43h1v1h-1zM12 43h1v1h-1zM14 43h1v1h-1zM17 43h1v1h-1zM19 43h1v1h-1zM31 43h1v1h-1zM43 43h1v1h-1zM44 43h1v1h-1zM47 43h1v1h-1zM55 43h1v1h-1zM57 43h1v1h-1zM66 43h1v1h-1zM79 43h1v1h-1zM84 43h1v1h-1zM85 43h1v1h-1zM10 44h1v1h-1zM15 44h1v1h-1zM16 44h1v1h-1zM18 44h1v1h-1zM20 44h1v1h-1zM22 44h1v1h-1zM26 44h1v1h-1zM32 44h1v1h-1zM38 44h1v1h-1zM39 44h1v1h-1zM42 44h1v1h-1zM43 44h1v1h-1zM44 44h1v1h-1zM45 44h1v1h-1zM47 44h1v1h-1zM51 44h1v1h-1zM55 44h1v1h-1zM63 44h1v1h-1zM65 44h1v1h-1zM72 44h1v1h-1zM81 44h1v1h-1zM82 44h1v1h-1zM83 44h1v1h-1zM85 44h1v1h-1zM95 44h1v1h-1zM1 45h1v1h-1zM10 45h1v1h-1zM14 45h1v1h-1zM24 45h1v1h-1zM25 45h1v1h-1zM39 45h1v1h-1zM47 45h1v1h-1zM49 45h1v1h-1zM52 45h1v1h-1zM61 45h1v1h-1zM66 45h1v1h-1zM67 45h1v1h-1zM90 45h1v1h-1zM91 45h1v1h-1zM5 46h1v1h-1zM15 46h1v1h-1zM19 46h1v1h-1zM27 46h1v1h-1zM29 46h1v1h-1zM41 46h1v1h-1zM43 46h1v1h-1zM46 46h1v1h-1zM48 46h1v1h-1zM51 46h1v1h-1zM62 46h1v1h-1zM70 46h1v1h-1zM71 46h1v1h-1zM84 46h1v1h-1zM92 46h1v1h-1zM95 46h1v1h-1zM11 47h1v1h-1zM12 47h1v1h-1zM16 47h1v1h-1zM23 47h1v1h-1zM28 47h1v1h-1zM29 47h1v1h-1zM31 47h1v1h-1zM34 47h1v1h-1zM47 47h1v1h-1zM50 47h1v1h-1zM54 47h1v1h-1zM58 47h1v1h-1zM59 47h1v1h-1zM71 47h1v1h-1zM82 47h1v1h-1zM89 47h1v1h-1zM93 47h1v1h-1zM3 48h1v1h-1zM13 48h1v1h-1zM17 48h1v1h-1zM19 48h1v1h-1zM26 48h1v1h-1zM38 48h1v1h-1zM40 48h1v1h-1zM41 48h1v1h-1zM51 48h1v1h-1zM56 48h1v1h-1zM64 48h1v1h-1zM66 48h1v1h-1zM68 48h1v1h-1zM71 48h1v1h-1zM74 48h1v1h-1zM75 48h1v1h-1zM79 48h1v1h-1zM82 48h1v1h-1zM87 48h1v1h-1zM89 48h1v1h-1zM90 48h1v1h-1zM92 48h1v1h-1zM94 48h1v1h-1zM95 48h1v1h-1zM3 49h1v1h-1zM10 49h1v1h-1zM12 49h1v1h-1zM15 49h1v1h-1zM17 49h1v1h-1zM21 49h1v1h-1zM31 49h1v1h-1zM33 49h1v1h-1zM35 49h1v1h-1zM38 49h1v1h-1zM44 49h1v1h-1zM45 49h1v1h-1zM54 49h1v1h-1zM56 49h1v1h-1zM57 49h1v1h-1zM61 49h1v1h-1zM69 49h1v1h-1zM71 49h1v1h-1zM75 49h1v1h-1zM83 49h1v1h-1zM0 50h1v1h-1zM4 50h1v1h-1zM9 50h1v1h-1zM10 50h1v1h-1zM11 50h1v1h-1zM13 50h1v1h-1zM15 50h1v1h-1zM22 50h1v1h-1zM25 50h1v1h-1zM28 50h1v1h-1zM31 50h1v1h-1zM32 50h1v1h-1zM36 50h1v1h-1zM47 50h1v1h-1zM55 50h1v1h-1zM57 50h1v1h-1zM61 50h1v1h-1zM79 50h1v1h-1zM84 50h1v1h-1zM85 50h1v1h-1zM86 50h1v1h-1zM2 51h1v1h-1zM5 51h1v1h-1zM8 51h1v1h-1zM13 51h1v1h-1zM15 51h1v1h-1zM23 51h1v1h-1zM31 51h1v1h-1zM32 51h1v1h-1zM37 51h1v1h-1zM48 51h1v1h-1zM49 51h1v1h-1zM51 51h1v1h-1zM53 51h1v1h-1zM54 51h1v1h-1zM57 51h1v1h-1zM60 51h1v1h-1zM61 51h1v1h-1zM68 51h1v1h-1zM69 51h1v1h-1zM72 51h1v1h-1zM74 51h1v1h-1zM81 51h1v1h-1zM83 51h1v1h-1zM87 51h1v1h-1zM90 51h1v1h-1zM93 51h1v1h-1zM5 52h1v1h-1zM6 52h1v1h-1zM11 52h1v1h-1zM13 52h1v1h-1zM15 52h1v1h-1zM19 52h1v1h-1zM21 52h1v1h-1zM22 52h1v1h-1zM24 52h1v1h-1zM25 52h1v1h-1zM31 52h1v1h-1zM36 52h1v1h-1zM38 52h1v1h-1zM46 52h1v1h-1zM56 52h1v1h-1zM58 52h1v1h-1zM60 52h1v1h-1zM65 52h1v1h-1zM67 52h1v1h-1zM68 52h1v1h-1zM71 52h1v1h-1zM73 52h1v1h-1zM76 52h1v1h-1zM78 52h1v1h-1zM79 52h1v1h-1zM81 52h1v1h-1zM82 52h1v1h-1zM84 52h1v1h-1zM86 52h1v1h-1zM92 52h1v1h-1zM2 53h1v1h-1zM13 53h1v1h-1zM24 53h1v1h-1zM29 53h1v1h-1zM33 53h1v1h-1zM35 53h1v1h-1zM38 53h1v1h-1zM41 53h1v1h-1zM43 53h1v1h-1zM50 53h1v1h-1zM53 53h1v1h-1zM55 53h1v1h-1zM67 53h1v1h-1zM71 53h1v1h-1zM74 53h1v1h-1zM80 53h1v1h-1zM89 53h1v1h-1zM0 54h1v1h-1zM6 54h1v1h-1zM11 54h1v1h-1zM15 54h1v1h-1zM19 54h1v1h-1zM20 54h1v1h-1zM21 54h1v1h-1zM22 54h1v1h-1zM31 54h1v1h-1zM39 54h1v1h-1zM45 54h1v1h-1zM49 54h1v1h-1zM50 54h1v1h-1zM52 54h1v1h-1zM53 54h1v1h-1zM54 54h1v1h-1zM55 54h1v1h-1zM59 54h1v1h-1zM60 54h1v1h-1zM62 54h1v1h-1zM70 54h1v1h-1zM81 54h1v1h-1zM90 54h1v1h-1zM3 55h1v1h-1zM22 55h1v1h-1zM25 55h1v1h-1zM27 55h1v1h-1zM28 55h1v1h-1zM29 55h1v1h-1zM33 55h1v1h-1zM42 55h1v1h-1zM45 55h1v1h-1zM52 55h1v1h-1zM65 55h1v1h-1zM68 55h1v1h-1zM75 55h1v1h-1zM80 55h1v1h-1zM81 55h1v1h-1zM85 55h1v1h-1zM91 55h1v1h-1zM8 56h1v1h-1zM13 56h1v1h-1zM14 56h1v1h-1zM18 56h1v1h-1zM20 56h1v1h-1zM21 56h1v1h-1zM23 56h1v1h-1zM24 56h1v1h-1zM29 56h1v1h-1zM40 56h1v1h-1zM43 56h1v1h-1zM45 56h1v1h-1zM49 56h1v1h-1zM52 56h1v1h-1zM55 56h1v1h-1zM59 56h1v1h-1zM71 56h1v1h-1zM74 56h1v1h-1zM78 56h1v1h-1zM79 56h1v1h-1zM80 56h1v1h-1zM83 56h1v1h-1zM10 57h1v1h-1zM11 57h1v1h-1zM22 57h1v1h-1zM24 57h1v1h-1zM28 57h1v1h-1zM33 57h1v1h-1zM42 57h1v1h-1zM44 57h1v1h-1zM47 57h1v1h-1zM54 57h1v1h-1zM56 57h1v1h-1zM58 57h1v1h-1zM59 57h1v1h-1zM60 57h1v1h-1zM61 57h1v1h-1zM62 57h1v1h-1zM67 57h1v1h-1zM69 57h1v1h-1zM79 57h1v1h-1zM11 58h1v1h-1zM15 58h1v1h-1zM21 58h1v1h-1zM27 58h1v1h-1zM29 58h1v1h-1zM31 58h1v1h-1zM38 58h1v1h-1zM44 58h1v1h-1zM47 58h1v1h-1zM49 58h1v1h-1zM54 58h1v1h-1zM57 58h1v1h-1zM60 58h1v1h-1zM67 58h1v1h-1zM70 58h1v1h-1zM73 58h1v1h-1zM75 58h1v1h-1zM76 58h1v1h-1zM78 58h1v1h-1zM79 58h1v1h-1zM84 58h1v1h-1zM94 58h1v1h-1zM3 59h1v1h-1zM17 59h1v1h-1zM18 59h1v1h-1zM19 59h1v1h-1zM23 59h1v1h-1zM26 59h1v1h-1zM27 59h1v1h-1zM39 59h1v1h-1zM46 59h1v1h-1zM50 59h1v1h-1zM51 59h1v1h-1zM54 59h1v1h-1zM57 59h1v1h-1zM58 59h1v1h-1zM61 59h1v1h-1zM65 59h1v1h-1zM68 59h1v1h-1zM73 59h1v1h-1zM77 59h1v1h-1zM78 59h1v1h-1zM82 59h1v1h-1zM12 60h1v1h-1zM15 60h1v1h-1zM16 60h1v1h-1zM20 60h1v1h-1zM25 60h1v1h-1zM27 60h1v1h-1zM30 60h1v1h-1zM34 60h1v1h-1zM35 60h1v1h-1zM38 60h1v1h-1zM48 60h1v1h-1zM57 60h1v1h-1zM59 60h1v1h-1zM64 60h1v1h-1zM65 60h1v1h-1zM67 60h1v1h-1zM68 60h1v1h-1zM81 60h1v1h-1zM87 60h1v1h-1zM93 60h1v1h-1zM95 60h1v1h-1zM14 61h1v1h-1zM17 61h1v1h-1zM20 61h1v1h-1zM32 61h1v1h-1zM37 61h1v1h-1zM43 61h1v1h-1zM53 61h1v1h-1zM58 61h1v1h-1zM59 61h1v1h-1zM65 61h1v1h-1zM68 61h1v1h-1zM74 61h1v1h-1zM77 61h1v1h-1zM79 61h1v1h-1zM85 61h1v1h-1zM94 61h1v1h-1zM7 62h1v1h-1zM9 62h1v1h-1zM11 62h1v1h-1zM12 62h1v1h-1zM16 62h1v1h-1zM19 62h1v1h-1zM25 62h1v1h-1zM27 62h1v1h-1zM35 62h1v1h-1zM37 62h1v1h-1zM40 62h1v1h-1zM41 62h1v1h-1zM42 62h1v1h-1zM44 62h1v1h-1zM48 62h1v1h-1zM50 62h1v1h-1zM59 62h1v1h-1zM62 62h1v1h-1zM70 62h1v1h-1zM78 62h1v1h-1zM82 62h1v1h-1zM83 62h1v1h-1zM12 63h1v1h-1zM18 63h1v1h-1zM33 63h1v1h-1zM35 63h1v1h-1zM37 63h1v1h-1zM39 63h1v1h-1zM40 63h1v1h-1zM41 63h1v1h-1zM45 63h1v1h-1zM49 63h1v1h-1zM52 63h1v1h-1zM53 63h1v1h-1zM55 63h1v1h-1zM56 63h1v1h-1zM57 63h1v1h-1zM60 63h1v1h-1zM61 63h1v1h-1zM65 63h1v1h-1zM67 63h1v1h-1zM71 63h1v1h-1zM75 63h1v1h-1zM80 63h1v1h-1zM89 63h1v1h-1zM92 63h1v1h-1zM94 63h1v1h-1zM3 64h1v1h-1zM10 64h1v1h-1zM13 64h1v1h-1zM17 64h1v1h-1zM22 64h1v1h-1zM25 64h1v1h-1zM29 64h1v1h-1zM34 64h1v1h-1zM37 64h1v1h-1zM48 64h1v1h-1zM49 64h1v1h-1zM51 64h1v1h-1zM52 64h1v1h-1zM53 64h1v1h-1zM54 64h1v1h-1zM58 64h1v1h-1zM59 64h1v1h-1zM61 64h1v1h-1zM64 64h1v1h-1zM78 64h1v1h-1zM85 64h1v1h-1zM94 64h1v1h-1zM28 65h1v1h-1zM29 65h1v1h-1zM30 65h1v1h-1zM31 65h1v1h-1zM36 65h1v1h-1zM39 65h1v1h-1zM43 65h1v1h-1zM45 65h1v1h-1zM53 65h1v1h-1zM57 65h1v1h-1zM58 65h1v1h-1zM59 65h1v1h-1zM63 65h1v1h-1zM65 65h1v1h-1zM66 65h1v1h-1zM68 65h1v1h-1zM74 65h1v1h-1zM79 65h1v1h-1zM87 65h1v1h-1zM90 65h1v1h-1zM94 65h1v1h-1zM9 66h1v1h-1zM14 66h1v1h-1zM16 66h1v1h-1zM21 66h1v1h-1zM23 66h1v1h-1zM25 66h1v1h-1zM35 66h1v1h-1zM38 66h1v1h-1zM43 66h1v1h-1zM46 66h1v1h-1zM51 66h1v1h-1zM56 66h1v1h-1zM64 66h1v1h-1zM66 66h1v1h-1zM75 66h1v1h-1zM78 66h1v1h-1zM93 66h1v1h-1zM16 67h1v1h-1zM21 67h1v1h-1zM27 67h1v1h-1zM30 67h1v1h-1zM31 67h1v1h-1zM33 67h1v1h-1zM36 67h1v1h-1zM44 67h1v1h-1zM46 67h1v1h-1zM58 67h1v1h-1zM59 67h1v1h-1zM60 67h1v1h-1zM63 67h1v1h-1zM64 67h1v1h-1zM71 67h1v1h-1zM73 67h1v1h-1zM86 67h1v1h-1zM14 68h1v1h-1zM16 68h1v1h-1zM30 68h1v1h-1zM36 68h1v1h-1zM37 68h1v1h-1zM38 68h1v1h-1zM41 68h1v1h-1zM45 68h1v1h-1zM54 68h1v1h-1zM59 68h1v1h-1zM61 68h1v1h-1zM65 68h1v1h-1zM82 68h1v1h-1zM89 68h1v1h-1zM95 68h1v1h-1zM19 69h1v1h-1zM22 69h1v1h-1zM32 69h1v1h-1zM35 69h1v1h-1zM36 69h1v1h-1zM47 69h1v1h-1zM54 69h1v1h-1zM55 69h1v1h-1zM61 69h1v1h-1zM67 69h1v1h-1zM70 69h1v1h-1zM75 69h1v1h-1zM78 69h1v1h-1zM12 70h1v1h-1zM17 70h1v1h-1zM18 70h1v1h-1zM26 70h1v1h-1zM37 70h1v1h-1zM43 70h1v1h-1zM59 70h1v1h-1zM63 70h1v1h-1zM70 70h1v1h-1zM72 70h1v1h-1zM85 70h1v1h-1zM9 71h1v1h-1zM19 71h1v1h-1zM23 71h1v1h-1zM24 71h1v1h-1zM26 71h1v1h-1zM32 71h1v1h-1zM34 71h1v1h-1zM40 71h1v1h-1zM45 71h1v1h-1zM46 71h1v1h-1zM47 71h1v1h-1zM55 71h1v1h-1zM65 71h1v1h-1zM69 71h1v1h-1zM70 71h1v1h-1zM72 71h1v1h-1zM73 71h1v1h-1zM75 71h1v1h-1zM87 71h1v1h-1zM22 72h1v1h-1zM23 72h1v1h-1zM26 72h1v1h-1zM30 72h1v1h-1zM32 72h1v1h-1zM35 72h1v1h-1zM40 72h1v1h-1zM42 72h1v1h-1zM56 72h1v1h-1zM62 72h1v1h-1zM63 72h1v1h-1zM72 72h1v1h-1zM84 72h1v1h-1zM20 73h1v1h-1zM22 73h1v1h-1zM27 73h1v1h-1zM33 73h1v1h-1zM37 73h1v1h-1zM46 73h1v1h-1zM49 73h1v1h-1zM55 73h1v1h-1zM58 73h1v1h-1zM90 73h1v1h-1zM13 74h1v1h-1zM15 74h1v1h-1zM17 74h1v1h-1zM21 74h1v1h-1zM23 74h1v1h-1zM26 74h1v1h-1zM30 74h1v1h-1zM34 74h1v1h-1zM36 74h1v1h-1zM41 74h1v1h-1zM45 74h1v1h-1zM46 74h1v1h-1zM51 74h1v1h-1zM52 74h1v1h-1zM54 74h1v1h-1zM60 74h1v1h-1zM67 74h1v1h-1zM71 74h1v1h-1zM4 75h1v1h-1zM10 75h1v1h-1zM14 75h1v1h-1zM24 75h1v1h-1zM33 75h1v1h-1zM40 75h1v1h-1zM42 75h1v1h-1zM43 75h1v1h-1zM44 75h1v1h-1zM46 75h1v1h-1zM48 75h1v1h-1zM50 75h1v1h-1zM54 75h1v1h-1zM56 75h1v1h-1zM59 75h1v1h-1zM60 75h1v1h-1zM64 75h1v1h-1zM68 75h1v1h-1zM28 76h1v1h-1zM29 76h1v1h-1zM46 76h1v1h-1zM47 76h1v1h-1zM48 76h1v1h-1zM49 76h1v1h-1zM62 76h1v1h-1zM65 76h1v1h-1zM5 77h1v1h-1zM34 77h1v1h-1zM36 77h1v1h-1zM37 77h1v1h-1zM46 77h1v1h-1zM71 77h1v1h-1zM74 77h1v1h-1zM79 77h1v1h-1zM23 78h1v1h-1zM29 78h1v1h-1zM34 78h1v1h-1zM35 78h1v1h-1zM41 78h1v1h-1zM52 78h1v1h-1zM55 78h1v1h-1zM56 78h1v1h-1zM86 78h1v1h-1zM10 79h1v1h-1zM30 79h1v1h-1zM35 79h1v1h-1zM42 79h1v1h-1zM43 79h1v1h-1zM47 79h1v1h-1zM52 79h1v1h-1zM54 79h1v1h-1zM58 79h1v1h-1zM59 79h1v1h-1zM60 79h1v1h-1zM66 79h1v1h-1zM79 79h1v1h-1zM83 79h1v1h-1zM87 79h1v1h-1zM95 79h1v1h-1zM10 80h1v1h-1zM14 80h1v1h-1zM22 80h1v1h-1zM23 80h1v1h-1zM24 80h1v1h-1zM27 80h1v1h-1zM33 80h1v1h-1zM42 80h1v1h-1zM45 80h1v1h-1zM50 80h1v1h-1zM51 80h1v1h-1zM56 80h1v1h-1zM62 80h1v1h-1zM63 80h1v1h-1zM64 80h1v1h-1zM65 80h1v1h-1zM95 80h1v1h-1zM12 81h1v1h-1zM20 81h1v1h-1zM30 81h1v1h-1zM31 81h1v1h-1zM36 81h1v1h-1zM38 81h1v1h-1zM41 81h1v1h-1zM46 81h1v1h-1zM50 81h1v1h-1zM52 81h1v1h-1zM53 81h1v1h-1zM54 81h1v1h-1zM59 81h1v1h-1zM60 81h1v1h-1zM64 81h1v1h-1zM73 81h1v1h-1zM2 82h1v1h-1zM6 82h1v1h-1zM14 82h1v1h-1zM33 82h1v1h-1zM39 82h1v1h-1zM50 82h1v1h-1zM59 82h1v1h-1zM61 82h1v1h-1zM70 82h1v1h-1zM25 83h1v1h-1zM34 83h1v1h-1zM36 83h1v1h-1zM39 83h1v1h-1zM43 83h1v1h-1zM48 83h1v1h-1zM50 83h1v1h-1zM51 83h1v1h-1zM53 83h1v1h-1zM57 83h1v1h-1zM62 83h1v1h-1zM79 83h1v1h-1zM86 83h1v1h-1zM18 84h1v1h-1zM37 84h1v1h-1zM41 84h1v1h-1zM43 84h1v1h-1zM47 84h1v1h-1zM55 84h1v1h-1zM69 84h1v1h-1zM70 84h1v1h-1zM8 85h1v1h-1zM34 85h1v1h-1zM37 85h1v1h-1zM42 85h1v1h-1zM50 85h1v1h-1zM52 85h1v1h-1zM53 85h1v1h-1zM2 86h1v1h-1zM22 86h1v1h-1zM30 86h1v1h-1zM34 86h1v1h-1zM39 86h1v1h-1zM46 86h1v1h-1zM48 86h1v1h-1zM49 86h1v1h-1zM57 86h1v1h-1zM83 86h1v1h-1zM86 86h1v1h-1zM94 86h1v1h-1zM21 87h1v1h-1zM40 87h1v1h-1zM45 87h1v1h-1zM47 87h1v1h-1zM50 87h1v1h-1zM51 87h1v1h-1zM53 87h1v1h-1zM68 87h1v1h-1zM81 87h1v1h-1zM87 87h1v1h-1zM40 88h1v1h-1zM41 88h1v1h-1zM45 88h1v1h-1zM53 88h1v1h-1zM54 88h1v1h-1zM64 88h1v1h-1zM7 89h1v1h-1zM39 89h1v1h-1zM40 89h1v1h-1zM41 89h1v1h-1zM42 89h1v1h-1zM48 89h1v1h-1zM49 89h1v1h-1zM53 89h1v1h-1zM86 89h1v1h-1zM93 89h1v1h-1zM11 90h1v1h-1zM14 90h1v1h-1zM38 90h1v1h-1zM59 90h1v1h-1zM2 91h1v1h-1zM23 91h1v1h-1zM33 91h1v1h-1zM43 91h1v1h-1zM46 91h1v1h-1zM49 91h1v1h-1zM50 91h1v1h-1zM56 91h1v1h-1zM57 91h1v1h-1zM59 91h1v1h-1zM16 92h1v1h-1zM21 92h1v1h-1zM40 92h1v1h-1zM44 92h1v1h-1zM48 92h1v1h-1zM57 92h1v1h-1zM58 92h1v1h-1zM74 92h1v1h-1zM21 93h1v1h-1zM79 93h1v1h-1zM16 94h1v1h-1zM17 94h1v1h-1zM35 94h1v1h-1zM44 94h1v1h-1zM53 94h1v1h-1zM4 95h1v1h-1zM30 95h1v1h-1zM45 95h1v1h-1zM58 95h1v1h-1zM94 95h1v1h-1zM9 96h1v1h-1zM46 96h1v1h-1zM70 96h1v1h-1zM2 97h1v1h-1zM17 97h1v1h-1zM29 97h1v1h-1zM30 97h1v1h-1zM39 97h1v1h-1zM56 97h1v1h-1zM83 97h1v1h-1zM95 97h1v1h-1zM26 98h1v1h-1zM36 98h1v1h-1zM70 98h1v1h-1zM90 98h1v1h-1zM11 99h1v1h-1zM23 99h1v1h-1zM32 99h1v1h-1zM47 99h1v1h-1zM64 99h1v1h-1zM90 99h1v1h-1zM91 99h1v1h-1z"/><path fill="#721e0c" d="M94 0h1v1h-1zM11 1h1v1h-1zM81 1h1v1h-1zM7 2h1v1h-1zM59 2h1v1h-1zM87 2h1v1h-1zM93 2h1v1h-1zM37 4h1v1h-1zM67 4h1v1h-1zM3 5h1v1h-1zM34 6h1v1h-1zM59 6h1v1h-1zM25 7h1v1h-1zM83 7h1v1h-1zM10 8h1v1h-1zM68 8h1v1h-1zM78 8h1v1h-1zM27 9h1v1h-1zM45 9h1v1h-1zM53 9h1v1h-1zM6 10h1v1h-1zM8 10h1v1h-1zM20 10h1v1h-1zM49 10h1v1h-1zM71 10h1v1h-1zM41 11h1v1h-1zM45 11h1v1h-1zM47 11h1v1h-1zM51 11h1v1h-1zM33 12h1v1h-1zM35 12h1v1h-1zM37 12h1v1h-1zM38 12h1v1h-1zM50 12h1v1h-1zM55 12h1v1h-1zM48 13h1v1h-1zM51 13h1v1h-1zM57 13h1v1h-1zM35 14h1v1h-1zM41 14h1v1h-1zM3 15h1v1h-1zM14 15h1v1h-1zM24 15h1v1h-1zM46 15h1v1h-1zM53 15h1v1h-1zM54 15h1v1h-1zM75 15h1v1h-1zM93 15h1v1h-1zM40 16h1v1h-1zM1 17h1v1h-1zM27 17h1v1h-1zM62 17h1v1h-1zM90 17h1v1h-1zM95 17h1v1h-1zM5 18h1v1h-1zM34 18h1v1h-1zM52 18h1v1h-1zM53 18h1v1h-1zM57 18h1v1h-1zM62 18h1v1h-1zM15 19h1v1h-1zM28 19h1v1h-1zM35 19h1v1h-1zM45 19h1v1h-1zM28 20h1v1h-1zM34 20h1v1h-1zM51 20h1v1h-1zM56 20h1v1h-1zM57 20h1v1h-1zM61 20h1v1h-1zM77 20h1v1h-1zM89 20h1v1h-1zM38 21h1v1h-1zM58 21h1v1h-1zM93 21h1v1h-1zM26 22h1v1h-1zM29 22h1v1h-1zM35 22h1v1h-1zM52 22h1v1h-1zM61 22h1v1h-1zM65 22h1v1h-1zM70 22h1v1h-1zM33 23h1v1h-1zM38 23h1v1h-1zM49 23h1v1h-1zM26 24h1v1h-1zM29 24h1v1h-1zM34 24h1v1h-1zM36 24h1v1h-1zM60 24h1v1h-1zM70 24h1v1h-1zM75 24h1v1h-1zM93 24h1v1h-1zM12 25h1v1h-1zM32 25h1v1h-1zM33 25h1v1h-1zM36 25h1v1h-1zM57 25h1v1h-1zM58 25h1v1h-1zM59 25h1v1h-1zM65 25h1v1h-1zM74 25h1v1h-1zM25 26h1v1h-1zM27 26h1v1h-1zM30 26h1v1h-1zM41 26h1v1h-1zM42 26h1v1h-1zM61 26h1v1h-1zM64 26h1v1h-1zM66 26h1v1h-1zM71 26h1v1h-1zM72 26h1v1h-1zM24 27h1v1h-1zM26 27h1v1h-1zM30 27h1v1h-1zM36 27h1v1h-1zM40 27h1v1h-1zM47 27h1v1h-1zM51 27h1v1h-1zM54 27h1v1h-1zM56 27h1v1h-1zM58 27h1v1h-1zM61 27h1v1h-1zM66 27h1v1h-1zM76 27h1v1h-1zM83 27h1v1h-1zM95 27h1v1h-1zM21 28h1v1h-1zM24 28h1v1h-1zM43 28h1v1h-1zM61 28h1v1h-1zM63 28h1v1h-1zM65 28h1v1h-1zM72 28h1v1h-1zM86 28h1v1h-1zM91 28h1v1h-1zM6 29h1v1h-1zM18 29h1v1h-1zM33 29h1v1h-1zM45 29h1v1h-1zM62 29h1v1h-1zM63 29h1v1h-1zM65 29h1v1h-1zM86 29h1v1h-1zM87 29h1v1h-1zM5 30h1v1h-1zM9 30h1v1h-1zM20 30h1v1h-1zM31 30h1v1h-1zM40 30h1v1h-1zM46 30h1v1h-1zM48 30h1v1h-1zM62 30h1v1h-1zM73 30h1v1h-1zM19 31h1v1h-1zM24 31h1v1h-1zM26 31h1v1h-1zM35 31h1v1h-1zM45 31h1v1h-1zM51 31h1v1h-1zM59 31h1v1h-1zM61 31h1v1h-1zM73 31h1v1h-1zM80 31h1v1h-1zM9 32h1v1h-1zM22 32h1v1h-1zM23 32h1v1h-1zM26 32h1v1h-1zM28 32h1v1h-1zM39 32h1v1h-1zM48 32h1v1h-1zM57 32h1v1h-1zM91 32h1v1h-1zM92 32h1v1h-1zM6 33h1v1h-1zM14 33h1v1h-1zM20 33h1v1h-1zM34 33h1v1h-1zM42 33h1v1h-1zM44 33h1v1h-1zM49 33h1v1h-1zM63 33h1v1h-1zM68 33h1v1h-1zM69 33h1v1h-1zM78 33h1v1h-1zM16 34h1v1h-1zM17 34h1v1h-1zM29 34h1v1h-1zM39 34h1v1h-1zM47 34h1v1h-1zM62 34h1v1h-1zM65 34h1v1h-1zM74 34h1v1h-1zM90 34h1v1h-1zM1 35h1v1h-1zM7 35h1v1h-1zM12 35h1v1h-1zM14 35h1v1h-1zM15 35h1v1h-1zM20 35h1v1h-1zM27 35h1v1h-1zM34 35h1v1h-1zM42 35h1v1h-1zM50 35h1v1h-1zM54 35h1v1h-1zM59 35h1v1h-1zM74 35h1v1h-1zM6 36h1v1h-1zM9 36h1v1h-1zM15 36h1v1h-1zM16 36h1v1h-1zM26 36h1v1h-1zM30 36h1v1h-1zM31 36h1v1h-1zM42 36h1v1h-1zM49 36h1v1h-1zM59 36h1v1h-1zM65 36h1v1h-1zM70 36h1v1h-1zM73 36h1v1h-1zM76 36h1v1h-1zM77 36h1v1h-1zM78 36h1v1h-1zM81 36h1v1h-1zM11 37h1v1h-1zM13 37h1v1h-1zM14 37h1v1h-1zM20 37h1v1h-1zM23 37h1v1h-1zM25 37h1v1h-1zM26 37h1v1h-1zM27 37h1v1h-1zM31 37h1v1h-1zM35 37h1v1h-1zM53 37h1v1h-1zM54 37h1v1h-1zM56 37h1v1h-1zM72 37h1v1h-1zM79 37h1v1h-1zM86 37h1v1h-1zM10 38h1v1h-1zM17 38h1v1h-1zM20 38h1v1h-1zM27 38h1v1h-1zM34 38h1v1h-1zM55 38h1v1h-1zM63 38h1v1h-1zM70 38h1v1h-1zM73 38h1v1h-1zM89 38h1v1h-1zM94 38h1v1h-1zM20 39h1v1h-1zM27 39h1v1h-1zM31 39h1v1h-1zM39 39h1v1h-1zM52 39h1v1h-1zM54 39h1v1h-1zM58 39h1v1h-1zM59 39h1v1h-1zM64 39h1v1h-1zM3 40h1v1h-1zM9 40h1v1h-1zM37 40h1v1h-1zM45 40h1v1h-1zM48 40h1v1h-1zM83 40h1v1h-1zM94 40h1v1h-1zM21 41h1v1h-1zM29 41h1v1h-1zM34 41h1v1h-1zM45 41h1v1h-1zM55 41h1v1h-1zM63 41h1v1h-1zM72 41h1v1h-1zM81 41h1v1h-1zM86 41h1v1h-1zM94 41h1v1h-1zM10 42h1v1h-1zM14 42h1v1h-1zM18 42h1v1h-1zM27 42h1v1h-1zM33 42h1v1h-1zM49 42h1v1h-1zM67 42h1v1h-1zM72 42h1v1h-1zM78 42h1v1h-1zM89 42h1v1h-1zM2 43h1v1h-1zM9 43h1v1h-1zM13 43h1v1h-1zM16 43h1v1h-1zM18 43h1v1h-1zM20 43h1v1h-1zM23 43h1v1h-1zM30 43h1v1h-1zM45 43h1v1h-1zM59 43h1v1h-1zM74 43h1v1h-1zM77 43h1v1h-1zM91 43h1v1h-1zM95 43h1v1h-1zM7 44h1v1h-1zM13 44h1v1h-1zM14 44h1v1h-1zM29 44h1v1h-1zM37 44h1v1h-1zM41 44h1v1h-1zM68 44h1v1h-1zM78 44h1v1h-1zM6 45h1v1h-1zM9 45h1v1h-1zM12 45h1v1h-1zM20 45h1v1h-1zM31 45h1v1h-1zM36 45h1v1h-1zM43 45h1v1h-1zM48 45h1v1h-1zM75 45h1v1h-1zM80 45h1v1h-1zM83 45h1v1h-1zM11 46h1v1h-1zM12 46h1v1h-1zM21 46h1v1h-1zM42 46h1v1h-1zM44 46h1v1h-1zM45 46h1v1h-1zM79 46h1v1h-1zM81 46h1v1h-1zM3 47h1v1h-1zM5 47h1v1h-1zM9 47h1v1h-1zM20 47h1v1h-1zM25 47h1v1h-1zM27 47h1v1h-1zM38 47h1v1h-1zM42 47h1v1h-1zM57 47h1v1h-1zM62 47h1v1h-1zM64 47h1v1h-1zM72 47h1v1h-1zM73 47h1v1h-1zM81 47h1v1h-1zM86 47h1v1h-1zM7 48h1v1h-1zM20 48h1v1h-1zM33 48h1v1h-1zM62 48h1v1h-1zM67 48h1v1h-1zM80 48h1v1h-1zM81 48h1v1h-1zM83 48h1v1h-1zM1 49h1v1h-1zM4 49h1v1h-1zM16 49h1v1h-1zM25 49h1v1h-1zM26 49h1v1h-1zM46 49h1v1h-1zM58 49h1v1h-1zM62 49h1v1h-1zM68 49h1v1h-1zM79 49h1v1h-1zM89 49h1v1h-1zM90 49h1v1h-1zM93 49h1v1h-1zM8 50h1v1h-1zM21 50h1v1h-1zM24 50h1v1h-1zM39 50h1v1h-1zM40 50h1v1h-1zM51 50h1v1h-1zM58 50h1v1h-1zM68 50h1v1h-1zM70 50h1v1h-1zM72 50h1v1h-1zM75 50h1v1h-1zM80 50h1v1h-1zM93 50h1v1h-1zM10 51h1v1h-1zM26 51h1v1h-1zM27 51h1v1h-1zM35 51h1v1h-1zM39 51h1v1h-1zM59 51h1v1h-1zM70 51h1v1h-1zM71 51h1v1h-1zM73 51h1v1h-1zM77 51h1v1h-1zM84 51h1v1h-1zM88 51h1v1h-1zM48 52h1v1h-1zM50 52h1v1h-1zM64 52h1v1h-1zM75 52h1v1h-1zM1 53h1v1h-1zM6 53h1v1h-1zM10 53h1v1h-1zM25 53h1v1h-1zM49 53h1v1h-1zM61 53h1v1h-1zM65 53h1v1h-1zM70 53h1v1h-1zM82 53h1v1h-1zM92 53h1v1h-1zM12 54h1v1h-1zM13 54h1v1h-1zM17 54h1v1h-1zM18 54h1v1h-1zM33 54h1v1h-1zM46 54h1v1h-1zM61 54h1v1h-1zM63 54h1v1h-1zM76 54h1v1h-1zM82 54h1v1h-1zM93 54h1v1h-1zM10 55h1v1h-1zM13 55h1v1h-1zM14 55h1v1h-1zM20 55h1v1h-1zM32 55h1v1h-1zM35 55h1v1h-1zM38 55h1v1h-1zM41 55h1v1h-1zM47 55h1v1h-1zM49 55h1v1h-1zM51 55h1v1h-1zM54 55h1v1h-1zM61 55h1v1h-1zM64 55h1v1h-1zM70 55h1v1h-1zM88 55h1v1h-1zM89 55h1v1h-1zM30 56h1v1h-1zM31 56h1v1h-1zM33 56h1v1h-1zM42 56h1v1h-1zM56 56h1v1h-1zM66 56h1v1h-1zM81 56h1v1h-1zM84 56h1v1h-1zM88 56h1v1h-1zM9 57h1v1h-1zM12 57h1v1h-1zM15 57h1v1h-1zM25 57h1v1h-1zM41 57h1v1h-1zM43 57h1v1h-1zM50 57h1v1h-1zM52 57h1v1h-1zM63 57h1v1h-1zM64 57h1v1h-1zM71 57h1v1h-1zM80 57h1v1h-1zM87 57h1v1h-1zM88 57h1v1h-1zM95 57h1v1h-1zM0 58h1v1h-1zM12 58h1v1h-1zM17 58h1v1h-1zM26 58h1v1h-1zM32 58h1v1h-1zM43 58h1v1h-1zM46 58h1v1h-1zM64 58h1v1h-1zM82 58h1v1h-1zM93 58h1v1h-1zM6 59h1v1h-1zM7 59h1v1h-1zM9 59h1v1h-1zM25 59h1v1h-1zM30 59h1v1h-1zM40 59h1v1h-1zM42 59h1v1h-1zM48 59h1v1h-1zM62 59h1v1h-1zM74 59h1v1h-1zM7 60h1v1h-1zM10 60h1v1h-1zM19 60h1v1h-1zM32 60h1v1h-1zM43 60h1v1h-1zM44 60h1v1h-1zM51 60h1v1h-1zM70 60h1v1h-1zM73 60h1v1h-1zM77 60h1v1h-1zM92 60h1v1h-1zM0 61h1v1h-1zM8 61h1v1h-1zM13 61h1v1h-1zM22 61h1v1h-1zM34 61h1v1h-1zM46 61h1v1h-1zM48 61h1v1h-1zM51 61h1v1h-1zM63 61h1v1h-1zM67 61h1v1h-1zM73 61h1v1h-1zM76 61h1v1h-1zM88 61h1v1h-1zM18 62h1v1h-1zM28 62h1v1h-1zM31 62h1v1h-1zM32 62h1v1h-1zM34 62h1v1h-1zM63 62h1v1h-1zM64 62h1v1h-1zM67 62h1v1h-1zM69 62h1v1h-1zM71 62h1v1h-1zM74 62h1v1h-1zM75 62h1v1h-1zM84 62h1v1h-1zM89 62h1v1h-1zM13 63h1v1h-1zM23 63h1v1h-1zM28 63h1v1h-1zM46 63h1v1h-1zM63 63h1v1h-1zM64 63h1v1h-1zM69 63h1v1h-1zM72 63h1v1h-1zM76 63h1v1h-1zM81 63h1v1h-1zM93 63h1v1h-1zM12 64h1v1h-1zM16 64h1v1h-1zM43 64h1v1h-1zM45 64h1v1h-1zM66 64h1v1h-1zM69 64h1v1h-1zM72 64h1v1h-1zM81 64h1v1h-1zM4 65h1v1h-1zM37 65h1v1h-1zM49 65h1v1h-1zM50 65h1v1h-1zM51 65h1v1h-1zM67 65h1v1h-1zM69 65h1v1h-1zM75 65h1v1h-1zM17 66h1v1h-1zM20 66h1v1h-1zM27 66h1v1h-1zM29 66h1v1h-1zM33 66h1v1h-1zM41 66h1v1h-1zM45 66h1v1h-1zM60 66h1v1h-1zM65 66h1v1h-1zM77 66h1v1h-1zM94 66h1v1h-1zM0 67h1v1h-1zM2 67h1v1h-1zM3 67h1v1h-1zM17 67h1v1h-1zM24 67h1v1h-1zM25 67h1v1h-1zM50 67h1v1h-1zM56 67h1v1h-1zM62 67h1v1h-1zM67 67h1v1h-1zM3 68h1v1h-1zM13 68h1v1h-1zM18 68h1v1h-1zM44 68h1v1h-1zM46 68h1v1h-1zM56 68h1v1h-1zM57 68h1v1h-1zM60 68h1v1h-1zM64 68h1v1h-1zM71 68h1v1h-1zM80 68h1v1h-1zM84 68h1v1h-1zM17 69h1v1h-1zM23 69h1v1h-1zM52 69h1v1h-1zM56 69h1v1h-1zM62 69h1v1h-1zM66 69h1v1h-1zM71 69h1v1h-1zM73 69h1v1h-1zM76 69h1v1h-1zM82 69h1v1h-1zM9 70h1v1h-1zM23 70h1v1h-1zM27 70h1v1h-1zM28 70h1v1h-1zM30 70h1v1h-1zM51 70h1v1h-1zM61 70h1v1h-1zM64 70h1v1h-1zM65 70h1v1h-1zM71 70h1v1h-1zM75 70h1v1h-1zM82 70h1v1h-1zM7 71h1v1h-1zM21 71h1v1h-1zM51 71h1v1h-1zM52 71h1v1h-1zM59 71h1v1h-1zM67 71h1v1h-1zM94 71h1v1h-1zM2 72h1v1h-1zM24 72h1v1h-1zM47 72h1v1h-1zM52 72h1v1h-1zM57 72h1v1h-1zM61 72h1v1h-1zM70 72h1v1h-1zM71 72h1v1h-1zM21 73h1v1h-1zM25 73h1v1h-1zM31 73h1v1h-1zM54 73h1v1h-1zM56 73h1v1h-1zM57 73h1v1h-1zM59 73h1v1h-1zM60 73h1v1h-1zM63 73h1v1h-1zM39 74h1v1h-1zM40 74h1v1h-1zM59 74h1v1h-1zM64 74h1v1h-1zM72 74h1v1h-1zM16 75h1v1h-1zM29 75h1v1h-1zM34 75h1v1h-1zM35 75h1v1h-1zM38 75h1v1h-1zM57 75h1v1h-1zM65 75h1v1h-1zM69 75h1v1h-1zM76 75h1v1h-1zM22 76h1v1h-1zM23 76h1v1h-1zM25 76h1v1h-1zM36 76h1v1h-1zM59 76h1v1h-1zM18 77h1v1h-1zM58 77h1v1h-1zM60 77h1v1h-1zM63 77h1v1h-1zM67 77h1v1h-1zM37 78h1v1h-1zM39 78h1v1h-1zM43 78h1v1h-1zM47 78h1v1h-1zM49 78h1v1h-1zM58 78h1v1h-1zM67 78h1v1h-1zM31 79h1v1h-1zM32 79h1v1h-1zM55 79h1v1h-1zM62 79h1v1h-1zM63 79h1v1h-1zM64 79h1v1h-1zM89 79h1v1h-1zM30 80h1v1h-1zM34 80h1v1h-1zM43 80h1v1h-1zM55 80h1v1h-1zM6 81h1v1h-1zM34 81h1v1h-1zM37 81h1v1h-1zM57 81h1v1h-1zM65 81h1v1h-1zM1 82h1v1h-1zM46 82h1v1h-1zM52 82h1v1h-1zM57 82h1v1h-1zM40 83h1v1h-1zM52 83h1v1h-1zM36 84h1v1h-1zM40 84h1v1h-1zM35 85h1v1h-1zM40 85h1v1h-1zM46 85h1v1h-1zM59 85h1v1h-1zM72 85h1v1h-1zM24 86h1v1h-1zM42 86h1v1h-1zM52 86h1v1h-1zM55 86h1v1h-1zM76 86h1v1h-1zM17 87h1v1h-1zM28 87h1v1h-1zM39 87h1v1h-1zM41 87h1v1h-1zM52 87h1v1h-1zM50 88h1v1h-1zM61 88h1v1h-1zM14 89h1v1h-1zM61 89h1v1h-1zM12 90h1v1h-1zM44 90h1v1h-1zM46 90h1v1h-1zM48 90h1v1h-1zM50 90h1v1h-1zM51 90h1v1h-1zM11 91h1v1h-1zM55 91h1v1h-1zM76 91h1v1h-1zM70 92h1v1h-1zM77 92h1v1h-1zM70 94h1v1h-1zM17 95h1v1h-1zM65 95h1v1h-1zM88 95h1v1h-1zM31 97h1v1h-1zM55 97h1v1h-1zM72 97h1v1h-1zM85 97h1v1h-1zM45 98h1v1h-1zM39 99h1v1h-1z"/><path fill="#8e2c11" d="M38 4h1v1h-1zM44 6h1v1h-1zM50 9h1v1h-1zM41 10h1v1h-1zM46 10h1v1h-1zM47 10h1v1h-1zM52 10h1v1h-1zM7 11h1v1h-1zM9 11h1v1h-1zM44 13h1v1h-1zM49 13h1v1h-1zM75 13h1v1h-1zM50 14h1v1h-1zM55 14h1v1h-1zM59 14h1v1h-1zM67 14h1v1h-1zM23 15h1v1h-1zM39 15h1v1h-1zM41 15h1v1h-1zM51 15h1v1h-1zM55 15h1v1h-1zM56 15h1v1h-1zM59 15h1v1h-1zM81 15h1v1h-1zM37 16h1v1h-1zM55 16h1v1h-1zM53 17h1v1h-1zM25 18h1v1h-1zM37 18h1v1h-1zM39 18h1v1h-1zM56 18h1v1h-1zM27 20h1v1h-1zM63 20h1v1h-1zM32 21h1v1h-1zM35 21h1v1h-1zM47 21h1v1h-1zM59 21h1v1h-1zM66 21h1v1h-1zM41 22h1v1h-1zM56 22h1v1h-1zM58 22h1v1h-1zM69 22h1v1h-1zM54 23h1v1h-1zM57 23h1v1h-1zM58 23h1v1h-1zM60 23h1v1h-1zM63 23h1v1h-1zM68 23h1v1h-1zM7 24h1v1h-1zM25 24h1v1h-1zM31 24h1v1h-1zM39 24h1v1h-1zM48 24h1v1h-1zM59 24h1v1h-1zM63 24h1v1h-1zM69 24h1v1h-1zM25 25h1v1h-1zM44 25h1v1h-1zM54 25h1v1h-1zM70 25h1v1h-1zM71 25h1v1h-1zM2 26h1v1h-1zM20 26h1v1h-1zM32 26h1v1h-1zM35 26h1v1h-1zM52 26h1v1h-1zM56 26h1v1h-1zM69 26h1v1h-1zM75 26h1v1h-1zM31 27h1v1h-1zM37 27h1v1h-1zM44 27h1v1h-1zM30 28h1v1h-1zM35 28h1v1h-1zM36 28h1v1h-1zM44 28h1v1h-1zM48 28h1v1h-1zM71 28h1v1h-1zM77 28h1v1h-1zM27 29h1v1h-1zM28 29h1v1h-1zM30 29h1v1h-1zM31 29h1v1h-1zM39 29h1v1h-1zM48 29h1v1h-1zM83 29h1v1h-1zM91 29h1v1h-1zM19 30h1v1h-1zM32 30h1v1h-1zM37 30h1v1h-1zM53 30h1v1h-1zM75 30h1v1h-1zM94 30h1v1h-1zM0 31h1v1h-1zM48 31h1v1h-1zM54 31h1v1h-1zM60 32h1v1h-1zM64 32h1v1h-1zM68 32h1v1h-1zM72 32h1v1h-1zM81 32h1v1h-1zM3 33h1v1h-1zM16 33h1v1h-1zM21 33h1v1h-1zM23 33h1v1h-1zM36 33h1v1h-1zM47 33h1v1h-1zM57 33h1v1h-1zM70 33h1v1h-1zM74 33h1v1h-1zM6 34h1v1h-1zM21 34h1v1h-1zM45 34h1v1h-1zM84 34h1v1h-1zM92 34h1v1h-1zM9 35h1v1h-1zM21 35h1v1h-1zM47 35h1v1h-1zM49 35h1v1h-1zM81 35h1v1h-1zM1 36h1v1h-1zM3 36h1v1h-1zM7 36h1v1h-1zM27 36h1v1h-1zM66 36h1v1h-1zM84 36h1v1h-1zM89 36h1v1h-1zM19 37h1v1h-1zM39 37h1v1h-1zM58 37h1v1h-1zM68 37h1v1h-1zM71 37h1v1h-1zM76 37h1v1h-1zM91 37h1v1h-1zM92 37h1v1h-1zM42 38h1v1h-1zM51 38h1v1h-1zM53 38h1v1h-1zM85 38h1v1h-1zM90 38h1v1h-1zM21 39h1v1h-1zM50 39h1v1h-1zM76 39h1v1h-1zM0 40h1v1h-1zM2 40h1v1h-1zM23 40h1v1h-1zM26 40h1v1h-1zM44 40h1v1h-1zM50 40h1v1h-1zM51 40h1v1h-1zM72 40h1v1h-1zM4 41h1v1h-1zM11 41h1v1h-1zM53 41h1v1h-1zM67 41h1v1h-1zM75 41h1v1h-1zM79 41h1v1h-1zM82 41h1v1h-1zM84 41h1v1h-1zM0 42h1v1h-1zM3 42h1v1h-1zM4 42h1v1h-1zM20 42h1v1h-1zM42 42h1v1h-1zM44 42h1v1h-1zM3 43h1v1h-1zM4 43h1v1h-1zM7 43h1v1h-1zM37 43h1v1h-1zM54 43h1v1h-1zM64 43h1v1h-1zM73 43h1v1h-1zM82 43h1v1h-1zM83 43h1v1h-1zM34 44h1v1h-1zM53 44h1v1h-1zM57 44h1v1h-1zM59 44h1v1h-1zM61 44h1v1h-1zM62 44h1v1h-1zM77 44h1v1h-1zM2 45h1v1h-1zM16 45h1v1h-1zM30 45h1v1h-1zM34 45h1v1h-1zM50 45h1v1h-1zM54 45h1v1h-1zM56 45h1v1h-1zM69 45h1v1h-1zM72 45h1v1h-1zM77 45h1v1h-1zM78 45h1v1h-1zM89 45h1v1h-1zM4 46h1v1h-1zM13 46h1v1h-1zM16 46h1v1h-1zM34 46h1v1h-1zM49 46h1v1h-1zM50 46h1v1h-1zM61 46h1v1h-1zM7 47h1v1h-1zM21 47h1v1h-1zM48 47h1v1h-1zM56 47h1v1h-1zM70 47h1v1h-1zM76 47h1v1h-1zM91 47h1v1h-1zM92 47h1v1h-1zM9 48h1v1h-1zM44 48h1v1h-1zM48 48h1v1h-1zM57 48h1v1h-1zM72 48h1v1h-1zM5 49h1v1h-1zM28 49h1v1h-1zM39 49h1v1h-1zM64 49h1v1h-1zM72 49h1v1h-1zM91 49h1v1h-1zM42 50h1v1h-1zM49 50h1v1h-1zM54 50h1v1h-1zM77 50h1v1h-1zM83 50h1v1h-1zM0 51h1v1h-1zM19 51h1v1h-1zM24 51h1v1h-1zM38 51h1v1h-1zM41 51h1v1h-1zM82 51h1v1h-1zM9 52h1v1h-1zM10 52h1v1h-1zM12 52h1v1h-1zM16 52h1v1h-1zM18 52h1v1h-1zM40 52h1v1h-1zM41 52h1v1h-1zM54 52h1v1h-1zM55 52h1v1h-1zM57 52h1v1h-1zM61 52h1v1h-1zM74 52h1v1h-1zM80 52h1v1h-1zM3 53h1v1h-1zM9 53h1v1h-1zM16 53h1v1h-1zM56 53h1v1h-1zM58 53h1v1h-1zM69 53h1v1h-1zM77 53h1v1h-1zM94 53h1v1h-1zM4 54h1v1h-1zM25 54h1v1h-1zM38 54h1v1h-1zM40 54h1v1h-1zM57 54h1v1h-1zM72 54h1v1h-1zM74 54h1v1h-1zM85 54h1v1h-1zM9 55h1v1h-1zM11 55h1v1h-1zM16 55h1v1h-1zM56 55h1v1h-1zM86 55h1v1h-1zM4 56h1v1h-1zM11 56h1v1h-1zM22 56h1v1h-1zM47 56h1v1h-1zM48 56h1v1h-1zM65 56h1v1h-1zM85 56h1v1h-1zM8 57h1v1h-1zM19 57h1v1h-1zM26 57h1v1h-1zM34 57h1v1h-1zM37 57h1v1h-1zM48 57h1v1h-1zM66 57h1v1h-1zM68 57h1v1h-1zM14 58h1v1h-1zM28 58h1v1h-1zM30 58h1v1h-1zM45 58h1v1h-1zM61 58h1v1h-1zM72 58h1v1h-1zM0 59h1v1h-1zM20 59h1v1h-1zM33 59h1v1h-1zM38 59h1v1h-1zM41 59h1v1h-1zM55 59h1v1h-1zM56 59h1v1h-1zM59 59h1v1h-1zM81 59h1v1h-1zM0 60h1v1h-1zM2 60h1v1h-1zM13 60h1v1h-1zM17 60h1v1h-1zM21 60h1v1h-1zM22 60h1v1h-1zM37 60h1v1h-1zM61 60h1v1h-1zM74 60h1v1h-1zM15 61h1v1h-1zM21 61h1v1h-1zM27 61h1v1h-1zM38 61h1v1h-1zM41 61h1v1h-1zM56 61h1v1h-1zM75 61h1v1h-1zM80 61h1v1h-1zM84 61h1v1h-1zM4 62h1v1h-1zM17 62h1v1h-1zM24 62h1v1h-1zM26 62h1v1h-1zM38 62h1v1h-1zM56 62h1v1h-1zM58 62h1v1h-1zM60 62h1v1h-1zM73 62h1v1h-1zM19 63h1v1h-1zM34 63h1v1h-1zM23 64h1v1h-1zM28 64h1v1h-1zM32 64h1v1h-1zM40 64h1v1h-1zM57 64h1v1h-1zM60 64h1v1h-1zM67 64h1v1h-1zM91 64h1v1h-1zM14 65h1v1h-1zM21 65h1v1h-1zM26 65h1v1h-1zM32 65h1v1h-1zM42 65h1v1h-1zM44 65h1v1h-1zM40 66h1v1h-1zM49 66h1v1h-1zM70 66h1v1h-1zM73 66h1v1h-1zM53 67h1v1h-1zM70 67h1v1h-1zM91 67h1v1h-1zM12 68h1v1h-1zM27 68h1v1h-1zM39 68h1v1h-1zM76 68h1v1h-1zM7 69h1v1h-1zM9 69h1v1h-1zM21 69h1v1h-1zM26 69h1v1h-1zM33 69h1v1h-1zM39 69h1v1h-1zM46 69h1v1h-1zM48 69h1v1h-1zM59 69h1v1h-1zM79 69h1v1h-1zM2 70h1v1h-1zM22 70h1v1h-1zM42 70h1v1h-1zM53 70h1v1h-1zM73 70h1v1h-1zM28 71h1v1h-1zM33 71h1v1h-1zM39 71h1v1h-1zM43 71h1v1h-1zM54 71h1v1h-1zM57 71h1v1h-1zM60 71h1v1h-1zM80 71h1v1h-1zM28 72h1v1h-1zM34 72h1v1h-1zM36 72h1v1h-1zM93 72h1v1h-1zM1 73h1v1h-1zM26 73h1v1h-1zM28 73h1v1h-1zM39 73h1v1h-1zM27 74h1v1h-1zM62 74h1v1h-1zM36 75h1v1h-1zM18 76h1v1h-1zM54 76h1v1h-1zM55 76h1v1h-1zM56 76h1v1h-1zM40 77h1v1h-1zM45 77h1v1h-1zM56 77h1v1h-1zM26 78h1v1h-1zM50 78h1v1h-1zM51 78h1v1h-1zM27 79h1v1h-1zM28 79h1v1h-1zM51 79h1v1h-1zM33 81h1v1h-1zM42 81h1v1h-1zM51 81h1v1h-1zM31 82h1v1h-1zM38 82h1v1h-1zM45 82h1v1h-1zM48 82h1v1h-1zM55 82h1v1h-1zM33 83h1v1h-1zM42 83h1v1h-1zM47 83h1v1h-1zM58 84h1v1h-1zM39 85h1v1h-1zM44 85h1v1h-1zM81 85h1v1h-1zM43 86h1v1h-1zM58 86h1v1h-1zM44 87h1v1h-1zM54 87h1v1h-1zM43 89h1v1h-1zM44 89h1v1h-1zM52 90h1v1h-1zM46 92h1v1h-1zM47 97h1v1h-1zM24 98h1v1h-1z"/><path fill="#a93b16" d="M77 2h1v1h-1zM60 8h1v1h-1zM89 8h1v1h-1zM42 9h1v1h-1zM66 11h1v1h-1zM43 15h1v1h-1zM58 15h1v1h-1zM38 16h1v1h-1zM34 17h1v1h-1zM44 17h1v1h-1zM52 17h1v1h-1zM60 19h1v1h-1zM40 20h1v1h-1zM62 20h1v1h-1zM64 20h1v1h-1zM54 21h1v1h-1zM60 22h1v1h-1zM63 22h1v1h-1zM64 22h1v1h-1zM48 23h1v1h-1zM23 24h1v1h-1zM26 25h1v1h-1zM55 25h1v1h-1zM57 27h1v1h-1zM40 28h1v1h-1zM50 28h1v1h-1zM55 28h1v1h-1zM84 28h1v1h-1zM11 29h1v1h-1zM26 29h1v1h-1zM44 29h1v1h-1zM46 29h1v1h-1zM55 29h1v1h-1zM58 29h1v1h-1zM6 30h1v1h-1zM39 30h1v1h-1zM54 30h1v1h-1zM56 30h1v1h-1zM81 30h1v1h-1zM30 32h1v1h-1zM53 32h1v1h-1zM95 32h1v1h-1zM25 33h1v1h-1zM37 33h1v1h-1zM48 33h1v1h-1zM53 33h1v1h-1zM66 33h1v1h-1zM24 34h1v1h-1zM40 34h1v1h-1zM42 34h1v1h-1zM43 34h1v1h-1zM70 34h1v1h-1zM94 34h1v1h-1zM95 34h1v1h-1zM32 35h1v1h-1zM43 35h1v1h-1zM44 35h1v1h-1zM2 36h1v1h-1zM33 36h1v1h-1zM91 36h1v1h-1zM38 37h1v1h-1zM43 37h1v1h-1zM45 37h1v1h-1zM48 37h1v1h-1zM66 37h1v1h-1zM41 38h1v1h-1zM50 38h1v1h-1zM54 38h1v1h-1zM75 38h1v1h-1zM47 39h1v1h-1zM19 40h1v1h-1zM47 40h1v1h-1zM79 40h1v1h-1zM81 40h1v1h-1zM35 41h1v1h-1zM36 41h1v1h-1zM42 41h1v1h-1zM6 42h1v1h-1zM22 42h1v1h-1zM31 42h1v1h-1zM38 42h1v1h-1zM41 42h1v1h-1zM73 42h1v1h-1zM91 42h1v1h-1zM36 43h1v1h-1zM46 43h1v1h-1zM49 43h1v1h-1zM86 43h1v1h-1zM21 44h1v1h-1zM27 44h1v1h-1zM28 44h1v1h-1zM40 44h1v1h-1zM69 44h1v1h-1zM8 45h1v1h-1zM21 45h1v1h-1zM32 45h1v1h-1zM65 45h1v1h-1zM73 45h1v1h-1zM85 45h1v1h-1zM0 46h1v1h-1zM7 46h1v1h-1zM14 46h1v1h-1zM18 46h1v1h-1zM28 46h1v1h-1zM80 46h1v1h-1zM94 46h1v1h-1zM61 47h1v1h-1zM66 47h1v1h-1zM84 47h1v1h-1zM1 48h1v1h-1zM18 48h1v1h-1zM35 48h1v1h-1zM37 48h1v1h-1zM18 49h1v1h-1zM27 49h1v1h-1zM29 49h1v1h-1zM53 49h1v1h-1zM63 49h1v1h-1zM88 49h1v1h-1zM95 49h1v1h-1zM17 50h1v1h-1zM30 50h1v1h-1zM37 50h1v1h-1zM44 50h1v1h-1zM46 50h1v1h-1zM59 50h1v1h-1zM66 50h1v1h-1zM92 50h1v1h-1zM6 51h1v1h-1zM56 51h1v1h-1zM78 51h1v1h-1zM26 52h1v1h-1zM49 52h1v1h-1zM62 52h1v1h-1zM28 53h1v1h-1zM62 53h1v1h-1zM90 53h1v1h-1zM27 54h1v1h-1zM37 54h1v1h-1zM43 54h1v1h-1zM51 54h1v1h-1zM69 54h1v1h-1zM77 54h1v1h-1zM86 54h1v1h-1zM24 55h1v1h-1zM26 55h1v1h-1zM50 55h1v1h-1zM57 55h1v1h-1zM93 55h1v1h-1zM3 56h1v1h-1zM19 56h1v1h-1zM73 56h1v1h-1zM20 57h1v1h-1zM36 57h1v1h-1zM38 57h1v1h-1zM46 57h1v1h-1zM18 58h1v1h-1zM41 58h1v1h-1zM16 59h1v1h-1zM63 59h1v1h-1zM80 59h1v1h-1zM29 60h1v1h-1zM63 60h1v1h-1zM78 60h1v1h-1zM10 61h1v1h-1zM16 61h1v1h-1zM57 61h1v1h-1zM60 61h1v1h-1zM62 61h1v1h-1zM93 61h1v1h-1zM1 62h1v1h-1zM20 62h1v1h-1zM36 62h1v1h-1zM5 63h1v1h-1zM30 63h1v1h-1zM78 63h1v1h-1zM86 63h1v1h-1zM73 64h1v1h-1zM79 64h1v1h-1zM93 64h1v1h-1zM36 66h1v1h-1zM57 66h1v1h-1zM58 66h1v1h-1zM89 66h1v1h-1zM23 67h1v1h-1zM75 67h1v1h-1zM0 68h1v1h-1zM22 68h1v1h-1zM49 68h1v1h-1zM16 69h1v1h-1zM18 69h1v1h-1zM68 69h1v1h-1zM69 69h1v1h-1zM32 70h1v1h-1zM35 70h1v1h-1zM45 70h1v1h-1zM35 71h1v1h-1zM41 71h1v1h-1zM66 71h1v1h-1zM33 72h1v1h-1zM23 73h1v1h-1zM43 73h1v1h-1zM48 73h1v1h-1zM47 74h1v1h-1zM61 74h1v1h-1zM65 74h1v1h-1zM66 74h1v1h-1zM44 76h1v1h-1zM63 76h1v1h-1zM69 76h1v1h-1zM38 77h1v1h-1zM39 77h1v1h-1zM27 78h1v1h-1zM59 78h1v1h-1zM38 79h1v1h-1zM48 79h1v1h-1zM46 80h1v1h-1zM54 80h1v1h-1zM43 81h1v1h-1zM58 81h1v1h-1zM38 83h1v1h-1zM49 83h1v1h-1zM58 85h1v1h-1zM40 86h1v1h-1zM54 86h1v1h-1zM42 90h1v1h-1zM47 90h1v1h-1zM15 92h1v1h-1zM92 97h1v1h-1zM87 98h1v1h-1z"/><path fill="#c3511c" d="M36 13h1v1h-1zM52 13h1v1h-1zM56 14h1v1h-1zM36 16h1v1h-1zM48 16h1v1h-1zM40 17h1v1h-1zM43 18h1v1h-1zM38 19h1v1h-1zM30 20h1v1h-1zM29 21h1v1h-1zM36 21h1v1h-1zM33 22h1v1h-1zM48 22h1v1h-1zM62 24h1v1h-1zM29 25h1v1h-1zM43 25h1v1h-1zM56 25h1v1h-1zM28 26h1v1h-1zM50 26h1v1h-1zM60 26h1v1h-1zM20 28h1v1h-1zM41 28h1v1h-1zM32 29h1v1h-1zM38 29h1v1h-1zM0 30h1v1h-1zM29 30h1v1h-1zM52 30h1v1h-1zM63 30h1v1h-1zM65 30h1v1h-1zM75 31h1v1h-1zM18 32h1v1h-1zM71 32h1v1h-1zM40 33h1v1h-1zM45 33h1v1h-1zM54 33h1v1h-1zM55 33h1v1h-1zM72 33h1v1h-1zM18 34h1v1h-1zM17 35h1v1h-1zM22 35h1v1h-1zM70 35h1v1h-1zM5 36h1v1h-1zM67 36h1v1h-1zM36 38h1v1h-1zM62 38h1v1h-1zM10 39h1v1h-1zM37 39h1v1h-1zM80 39h1v1h-1zM87 39h1v1h-1zM4 40h1v1h-1zM46 40h1v1h-1zM49 41h1v1h-1zM59 41h1v1h-1zM66 41h1v1h-1zM53 42h1v1h-1zM29 43h1v1h-1zM32 43h1v1h-1zM72 43h1v1h-1zM94 43h1v1h-1zM9 44h1v1h-1zM12 44h1v1h-1zM73 44h1v1h-1zM79 44h1v1h-1zM87 44h1v1h-1zM92 44h1v1h-1zM41 45h1v1h-1zM64 45h1v1h-1zM67 46h1v1h-1zM76 46h1v1h-1zM37 47h1v1h-1zM43 47h1v1h-1zM48 49h1v1h-1zM3 50h1v1h-1zM53 50h1v1h-1zM11 51h1v1h-1zM18 51h1v1h-1zM50 51h1v1h-1zM55 51h1v1h-1zM62 51h1v1h-1zM86 51h1v1h-1zM47 52h1v1h-1zM66 52h1v1h-1zM70 52h1v1h-1zM4 53h1v1h-1zM18 53h1v1h-1zM19 53h1v1h-1zM51 53h1v1h-1zM10 54h1v1h-1zM5 55h1v1h-1zM63 55h1v1h-1zM27 56h1v1h-1zM93 56h1v1h-1zM35 57h1v1h-1zM73 57h1v1h-1zM24 58h1v1h-1zM36 58h1v1h-1zM40 58h1v1h-1zM87 58h1v1h-1zM90 58h1v1h-1zM36 59h1v1h-1zM23 60h1v1h-1zM26 60h1v1h-1zM28 60h1v1h-1zM49 60h1v1h-1zM11 61h1v1h-1zM21 62h1v1h-1zM23 62h1v1h-1zM33 62h1v1h-1zM56 64h1v1h-1zM70 64h1v1h-1zM92 64h1v1h-1zM2 65h1v1h-1zM19 65h1v1h-1zM34 65h1v1h-1zM71 66h1v1h-1zM18 67h1v1h-1zM20 68h1v1h-1zM8 69h1v1h-1zM57 69h1v1h-1zM29 70h1v1h-1zM31 70h1v1h-1zM44 72h1v1h-1zM49 72h1v1h-1zM52 73h1v1h-1zM62 73h1v1h-1zM65 73h1v1h-1zM25 74h1v1h-1zM35 74h1v1h-1zM70 74h1v1h-1zM52 75h1v1h-1zM40 76h1v1h-1zM41 77h1v1h-1zM33 78h1v1h-1zM53 78h1v1h-1zM53 79h1v1h-1zM41 80h1v1h-1zM59 80h1v1h-1zM62 81h1v1h-1zM37 82h1v1h-1zM58 82h1v1h-1zM46 83h1v1h-1zM61 83h1v1h-1zM45 84h1v1h-1zM91 84h1v1h-1zM38 87h1v1h-1zM43 87h1v1h-1zM45 89h1v1h-1zM28 91h1v1h-1zM34 92h1v1h-1zM24 99h1v1h-1z"/><path fill="#da6e21" d="M40 10h1v1h-1zM49 11h1v1h-1zM52 12h1v1h-1zM53 13h1v1h-1zM30 17h1v1h-1zM30 19h1v1h-1zM55 20h1v1h-1zM37 23h1v1h-1zM46 26h1v1h-1zM63 26h1v1h-1zM39 27h1v1h-1zM19 28h1v1h-1zM56 29h1v1h-1zM74 29h1v1h-1zM28 31h1v1h-1zM30 31h1v1h-1zM50 31h1v1h-1zM59 32h1v1h-1zM54 34h1v1h-1zM45 35h1v1h-1zM52 35h1v1h-1zM76 35h1v1h-1zM77 35h1v1h-1zM41 37h1v1h-1zM16 38h1v1h-1zM33 38h1v1h-1zM71 39h1v1h-1zM35 40h1v1h-1zM63 40h1v1h-1zM68 40h1v1h-1zM40 42h1v1h-1zM70 43h1v1h-1zM48 44h1v1h-1zM4 45h1v1h-1zM17 46h1v1h-1zM38 46h1v1h-1zM85 46h1v1h-1zM49 47h1v1h-1zM14 49h1v1h-1zM67 49h1v1h-1zM85 49h1v1h-1zM12 51h1v1h-1zM30 51h1v1h-1zM34 51h1v1h-1zM39 52h1v1h-1zM52 52h1v1h-1zM85 52h1v1h-1zM26 53h1v1h-1zM73 53h1v1h-1zM37 55h1v1h-1zM10 56h1v1h-1zM67 56h1v1h-1zM31 57h1v1h-1zM39 57h1v1h-1zM85 57h1v1h-1zM16 58h1v1h-1zM22 59h1v1h-1zM76 59h1v1h-1zM12 61h1v1h-1zM28 61h1v1h-1zM72 62h1v1h-1zM14 63h1v1h-1zM24 63h1v1h-1zM77 63h1v1h-1zM84 63h1v1h-1zM17 65h1v1h-1zM56 65h1v1h-1zM76 65h1v1h-1zM43 68h1v1h-1zM53 68h1v1h-1zM66 70h1v1h-1zM64 71h1v1h-1zM35 76h1v1h-1zM37 76h1v1h-1zM64 76h1v1h-1zM53 77h1v1h-1zM38 78h1v1h-1zM48 81h1v1h-1zM49 82h1v1h-1zM55 83h1v1h-1zM32 84h1v1h-1zM65 87h1v1h-1zM48 91h1v1h-1z"/><path fill="#f28c26" d="M50 17h1v1h-1zM56 19h1v1h-1zM68 26h1v1h-1zM44 30h1v1h-1zM48 34h1v1h-1zM55 34h1v1h-1zM79 36h1v1h-1zM20 40h1v1h-1zM6 41h1v1h-1zM50 42h1v1h-1zM57 42h1v1h-1zM64 42h1v1h-1zM87 42h1v1h-1zM35 44h1v1h-1zM29 45h1v1h-1zM38 45h1v1h-1zM53 46h1v1h-1zM63 46h1v1h-1zM40 47h1v1h-1zM69 47h1v1h-1zM28 54h1v1h-1zM94 55h1v1h-1zM25 56h1v1h-1zM36 56h1v1h-1zM51 57h1v1h-1zM55 57h1v1h-1zM51 58h1v1h-1zM88 58h1v1h-1zM93 59h1v1h-1zM47 60h1v1h-1zM81 61h1v1h-1zM90 61h1v1h-1zM54 67h1v1h-1zM38 71h1v1h-1zM60 76h1v1h-1zM32 77h1v1h-1zM40 81h1v1h-1zM60 83h1v1h-1zM43 88h1v1h-1zM48 88h1v1h-1z"/><path fill="#f7af49" d="M52 20h1v1h-1zM51 26h1v1h-1zM60 29h1v1h-1zM67 37h1v1h-1zM73 37h1v1h-1zM21 40h1v1h-1zM69 40h1v1h-1zM32 41h1v1h-1zM43 42h1v1h-1zM88 43h1v1h-1zM37 46h1v1h-1zM5 50h1v1h-1zM14 54h1v1h-1zM89 54h1v1h-1zM94 54h1v1h-1zM84 55h1v1h-1zM3 60h1v1h-1zM39 60h1v1h-1zM30 61h1v1h-1zM54 63h1v1h-1zM71 65h1v1h-1zM41 67h1v1h-1zM13 75h1v1h-1zM39 75h1v1h-1zM66 75h1v1h-1zM58 83h1v1h-1zM0 84h1v1h-1zM29 94h1v1h-1z"/><path fill="#fcd36d" d="M47 17h1v1h-1zM60 17h1v1h-1zM54 19h1v1h-1zM67 22h1v1h-1zM40 23h1v1h-1zM27 28h1v1h-1zM66 30h1v1h-1zM56 36h1v1h-1zM80 37h1v1h-1zM43 40h1v1h-1zM43 41h1v1h-1zM6 43h1v1h-1zM4 44h1v1h-1zM11 44h1v1h-1zM5 45h1v1h-1zM83 46h1v1h-1zM88 46h1v1h-1zM32 47h1v1h-1zM36 47h1v1h-1zM88 47h1v1h-1zM90 47h1v1h-1zM80 49h1v1h-1zM88 50h1v1h-1zM63 53h1v1h-1zM92 54h1v1h-1zM46 56h1v1h-1zM42 58h1v1h-1zM58 58h1v1h-1zM14 60h1v1h-1zM46 60h1v1h-1zM15 62h1v1h-1zM63 66h1v1h-1zM29 69h1v1h-1zM31 71h1v1h-1zM50 72h1v1h-1zM45 76h1v1h-1zM53 76h1v1h-1zM26 77h1v1h-1zM36 78h1v1h-1zM29 79h1v1h-1zM28 80h1v1h-1zM37 80h1v1h-1zM42 87h1v1h-1z"/></g></g>
<polygon points="473.8,59.8 474.3,60.7 474.9,61.7 475.4,62.6 475.8,63.6 476.3,64.5 476.8,65.4 477.2,66.4 477.6,67.3 478.0,68.3 478.4,69.2 478.7,70.1 479.0,71.1 479.4,72.0 479.7,73.0 479.9,73.9 480.2,74.8 480.5,75.8 480.7,76.7 480.9,77.7 481.1,78.6 481.3,79.5 481.4,80.5 481.6,81.4 481.7,82.4 481.8,83.3 481.9,84.2 481.9,85.2 482.0,86.1 482.0,87.1 482.0,88.0 482.0,88.9 482.0,89.9 481.9,90.8 481.9,91.8 481.8,92.7 481.7,93.6 481.6,94.6 481.4,95.5 481.3,96.5 481.1,97.4 480.9,98.3 480.7,99.3 480.5,100.2 480.2,101.2 479.9,102.1 479.7,103.0 479.4,104.0 479.0,104.9 478.7,105.9 478.4,106.8 478.0,107.7 477.6,108.7 477.2,109.6 476.8,110.6 476.3,111.5 475.8,112.4 475.4,113.4 474.9,114.3 474.3,115.3 473.8,116.2 473.8,116.2 473.3,115.3 472.7,114.3 472.2,113.4 471.8,112.4 471.3,111.5 470.8,110.6 470.4,109.6 470.0,108.7 469.6,107.7 469.2,106.8 468.9,105.9 468.6,104.9 468.2,104.0 467.9,103.0 467.7,102.1 467.4,101.2 467.1,100.2 466.9,99.3 466.7,98.3 466.5,97.4 466.3,96.5 466.2,95.5 466.0,94.6 465.9,93.6 465.8,92.7 465.7,91.8 465.7,90.8 465.6,89.9 465.6,88.9 465.6,88.0 465.6,87.1 465.6,86.1 465.7,85.2 465.7,84.2 465.8,83.3 465.9,82.4 466.0,81.4 466.2,80.5 466.3,79.5 466.5,78.6 466.7,77.7 466.9,76.7 467.1,75.8 467.4,74.8 467.7,73.9 467.9,73.0 468.2,72.0 468.6,71.1 468.9,70.1 469.2,69.2 469.6,68.3 470.0,67.3 470.4,66.4 470.8,65.4 471.3,64.5 471.8,63.6 472.2,62.6 472.7,61.7 473.3,60.7 473.8,59.8" fill="none" stroke="#d0cccc" stroke-opacity="0.78" stroke-width="2.4" stroke-dasharray="6,3.5"/>
<polygon points="473.8,48.7 475.0,50.0 476.2,51.3 477.3,52.6 478.4,53.9 479.4,55.2 480.4,56.6 481.3,57.9 482.3,59.2 483.1,60.5 484.0,61.8 484.8,63.1 485.5,64.4 486.2,65.7 486.9,67.0 487.5,68.3 488.1,69.7 488.7,71.0 489.2,72.3 489.6,73.6 490.1,74.9 490.5,76.2 490.8,77.5 491.1,78.8 491.4,80.1 491.6,81.5 491.8,82.8 491.9,84.1 492.0,85.4 492.1,86.7 492.1,88.0 492.1,89.3 492.0,90.6 491.9,91.9 491.8,93.2 491.6,94.5 491.4,95.9 491.1,97.2 490.8,98.5 490.5,99.8 490.1,101.1 489.6,102.4 489.2,103.7 488.7,105.0 488.1,106.3 487.5,107.7 486.9,109.0 486.2,110.3 485.5,111.6 484.8,112.9 484.0,114.2 483.1,115.5 482.3,116.8 481.3,118.1 480.4,119.4 479.4,120.8 478.4,122.1 477.3,123.4 476.2,124.7 475.0,126.0 473.8,127.3 473.8,127.3 472.6,126.0 471.4,124.7 470.3,123.4 469.2,122.1 468.2,120.8 467.2,119.4 466.3,118.1 465.3,116.8 464.5,115.5 463.6,114.2 462.8,112.9 462.1,111.6 461.4,110.3 460.7,109.0 460.1,107.7 459.5,106.3 458.9,105.0 458.4,103.7 458.0,102.4 457.5,101.1 457.1,99.8 456.8,98.5 456.5,97.2 456.2,95.9 456.0,94.5 455.8,93.2 455.7,91.9 455.6,90.6 455.5,89.3 455.5,88.0 455.5,86.7 455.6,85.4 455.7,84.1 455.8,82.8 456.0,81.5 456.2,80.1 456.5,78.8 456.8,77.5 457.1,76.2 457.5,74.9 458.0,73.6 458.4,72.3 458.9,71.0 459.5,69.7 460.1,68.3 460.7,67.0 461.4,65.7 462.1,64.4 462.8,63.1 463.6,61.8 464.5,60.5 465.3,59.2 466.3,57.9 467.2,56.6 468.2,55.3 469.2,53.9 470.3,52.6 471.4,51.3 472.6,50.0 473.8,48.7" fill="none" stroke="#d0cccc" stroke-opacity="0.78" stroke-width="2.4" stroke-dasharray="6,3.5"/>
<polygon points="473.8,39.0 475.7,40.6 477.5,42.3 479.3,43.9 481.0,45.5 482.6,47.2 484.2,48.8 485.7,50.4 487.1,52.1 488.5,53.7 489.8,55.3 491.0,57.0 492.2,58.6 493.4,60.2 494.4,61.9 495.4,63.5 496.3,65.1 497.2,66.8 498.0,68.4 498.7,70.0 499.4,71.7 500.0,73.3 500.6,74.9 501.0,76.6 501.4,78.2 501.8,79.8 502.1,81.5 502.3,83.1 502.5,84.7 502.6,86.4 502.6,88.0 502.6,89.6 502.5,91.3 502.3,92.9 502.1,94.5 501.8,96.2 501.4,97.8 501.0,99.4 500.6,101.1 500.0,102.7 499.4,104.3 498.7,106.0 498.0,107.6 497.2,109.2 496.3,110.9 495.4,112.5 494.4,114.1 493.4,115.8 492.2,117.4 491.0,119.0 489.8,120.7 488.5,122.3 487.1,123.9 485.7,125.6 484.2,127.2 482.6,128.8 481.0,130.5 479.3,132.1 477.5,133.7 475.7,135.4 473.8,137.0 473.8,137.0 471.9,135.4 470.1,133.7 468.3,132.1 466.6,130.5 465.0,128.8 463.4,127.2 461.9,125.6 460.5,123.9 459.1,122.3 457.8,120.7 456.6,119.0 455.4,117.4 454.2,115.8 453.2,114.1 452.2,112.5 451.3,110.9 450.4,109.2 449.6,107.6 448.9,106.0 448.2,104.3 447.6,102.7 447.0,101.1 446.6,99.4 446.2,97.8 445.8,96.2 445.5,94.5 445.3,92.9 445.1,91.3 445.0,89.6 445.0,88.0 445.0,86.4 445.1,84.7 445.3,83.1 445.5,81.5 445.8,79.8 446.2,78.2 446.6,76.6 447.0,74.9 447.6,73.3 448.2,71.7 448.9,70.0 449.6,68.4 450.4,66.8 451.3,65.1 452.2,63.5 453.2,61.9 454.2,60.2 455.4,58.6 456.6,57.0 457.8,55.3 459.1,53.7 460.5,52.1 461.9,50.4 463.4,48.8 465.0,47.2 466.6,45.5 468.3,43.9 470.1,42.3 471.9,40.6 473.8,39.0" fill="none" stroke="#d0cccc" stroke-opacity="0.78" stroke-width="2.4" stroke-dasharray="6,3.5"/>
<polygon points="473.8,29.7 476.6,31.6 479.2,33.6 481.8,35.5 484.3,37.5 486.6,39.4 488.9,41.4 491.1,43.3 493.2,45.2 495.2,47.2 497.1,49.1 499.0,51.1 500.7,53.0 502.3,55.0 503.9,56.9 505.3,58.9 506.7,60.8 507.9,62.7 509.1,64.7 510.2,66.6 511.1,68.6 512.0,70.5 512.8,72.5 513.5,74.4 514.1,76.3 514.6,78.3 515.1,80.2 515.4,82.2 515.6,84.1 515.8,86.1 515.8,88.0 515.8,89.9 515.6,91.9 515.4,93.8 515.1,95.8 514.6,97.7 514.1,99.7 513.5,101.6 512.8,103.5 512.0,105.5 511.1,107.4 510.2,109.4 509.1,111.3 507.9,113.3 506.7,115.2 505.3,117.2 503.9,119.1 502.3,121.0 500.7,123.0 499.0,124.9 497.1,126.9 495.2,128.8 493.2,130.8 491.1,132.7 488.9,134.6 486.6,136.6 484.3,138.5 481.8,140.5 479.2,142.4 476.6,144.4 473.8,146.3 473.8,146.3 471.0,144.4 468.4,142.4 465.8,140.5 463.3,138.5 461.0,136.6 458.7,134.6 456.5,132.7 454.4,130.8 452.4,128.8 450.5,126.9 448.6,124.9 446.9,123.0 445.3,121.0 443.7,119.1 442.3,117.2 440.9,115.2 439.7,113.3 438.5,111.3 437.4,109.4 436.5,107.4 435.6,105.5 434.8,103.5 434.1,101.6 433.5,99.7 433.0,97.7 432.5,95.8 432.2,93.8 432.0,91.9 431.8,89.9 431.8,88.0 431.8,86.1 432.0,84.1 432.2,82.2 432.5,80.2 433.0,78.3 433.5,76.3 434.1,74.4 434.8,72.5 435.6,70.5 436.5,68.6 437.4,66.6 438.5,64.7 439.7,62.7 440.9,60.8 442.3,58.9 443.7,56.9 445.3,55.0 446.9,53.0 448.6,51.1 450.5,49.1 452.4,47.2 454.4,45.2 456.5,43.3 458.7,41.4 461.0,39.4 463.3,37.5 465.8,35.5 468.4,33.6 471.0,31.6 473.8,29.7" fill="none" stroke="#d0cccc" stroke-opacity="0.78" stroke-width="2.4" stroke-dasharray="6,3.5"/>
<polyline points="400.8,58.1 402.7,57.9 404.6,57.3 406.4,56.7 408.3,55.9 410.2,55.1 412.1,54.2 413.9,53.2 415.8,52.1 417.7,50.9 419.6,49.6 421.4,48.4 423.3,47.1 425.2,45.8 427.1,44.6 428.9,43.3 430.8,42.0 432.7,40.8 434.6,39.5 436.4,38.2 438.3,37.0 440.2,35.7 442.1,34.4 444.0,33.2 445.8,31.9 447.7,30.7 449.6,29.4 451.5,28.2 453.3,26.9 455.2,25.7 457.1,24.5 459.0,23.2 460.8,22.0 462.7,20.9 464.6,19.7 466.5,18.6 468.3,17.6 470.2,16.8 472.1,16.2 474.0,16.0 475.9,16.3 477.7,16.9 479.6,17.8 481.5,18.8 483.4,19.9 485.2,21.1 487.1,22.3 489.0,23.5 490.9,24.7 492.7,25.9 494.6,27.2 496.5,28.4 498.4,29.6 500.2,30.9 502.1,32.2 504.0,33.4 505.9,34.7 507.7,35.9 509.6,37.2 511.5,38.5 513.4,39.7 515.3,41.0 517.1,42.3 519.0,43.5 520.9,44.8 522.8,46.1 524.6,47.3 526.5,48.6 528.4,49.9 530.3,51.1 532.1,52.3 534.0,53.4 535.9,54.3 537.8,55.2 539.6,56.1 541.5,56.8 543.4,57.4 545.3,58.0 547.1,58.1 549.0,58.1 550.9,58.1" fill="none" stroke="#d0cccc" stroke-opacity="0.78" stroke-width="2.4" stroke-dasharray="6,3.5"/>
<polyline points="400.8,117.9 402.7,118.1 404.6,118.7 406.4,119.3 408.3,120.1 410.2,120.9 412.1,121.8 413.9,122.8 415.8,123.9 417.7,125.1 419.6,126.4 421.4,127.6 423.3,128.9 425.2,130.2 427.1,131.4 428.9,132.7 430.8,134.0 432.7,135.2 434.6,136.5 436.4,137.8 438.3,139.0 440.2,140.3 442.1,141.6 444.0,142.8 445.8,144.1 447.7,145.3 449.6,146.6 451.5,147.8 453.3,149.1 455.2,150.3 457.1,151.5 459.0,152.8 460.8,154.0 462.7,155.1 464.6,156.3 466.5,157.4 468.3,158.4 470.2,159.2 472.1,159.8 474.0,160.0 475.9,159.7 477.7,159.1 479.6,158.2 481.5,157.2 483.4,156.1 485.2,154.9 487.1,153.7 489.0,152.5 490.9,151.3 492.7,150.1 494.6,148.8 496.5,147.6 498.4,146.4 500.2,145.1 502.1,143.8 504.0,142.6 505.9,141.3 507.7,140.1 509.6,138.8 511.5,137.5 513.4,136.3 515.3,135.0 517.1,133.7 519.0,132.5 520.9,131.2 522.8,129.9 524.6,128.7 526.5,127.4 528.4,126.1 530.3,124.9 532.1,123.7 534.0,122.6 535.9,121.7 537.8,120.8 539.6,119.9 541.5,119.2 543.4,118.6 545.3,118.0 547.1,117.9 549.0,117.9 550.9,117.9" fill="none" stroke="#d0cccc" stroke-opacity="0.78" stroke-width="2.4" stroke-dasharray="6,3.5"/>
<polygon points="538.4,88.0 538.4,88.1 538.4,88.2 538.4,88.3 538.4,88.4 538.4,88.5 538.4,88.7 538.4,88.8 538.3,88.9 538.3,89.0 538.3,89.2 538.3,89.4 538.2,89.5 538.2,89.7 538.1,90.0 538.1,90.2 538.0,90.5 537.9,90.8 537.8,91.2 537.6,91.6 537.5,92.0 537.3,92.4 537.1,93.0 536.9,93.6 536.6,94.3 536.2,95.0 535.9,95.8 535.4,96.7 534.9,97.7 534.3,98.7 533.6,99.9 532.9,101.2 532.1,102.6 531.1,104.1 530.0,105.7 528.8,107.4 527.6,109.2 526.2,111.1 524.6,113.1 523.0,115.2 521.3,117.3 519.4,119.4 517.5,121.6 515.4,123.9 513.4,126.0 511.2,128.2 509.0,130.4 506.9,132.4 504.7,134.4 502.6,136.3 500.5,138.0 498.5,139.7 496.5,141.2 494.7,142.6 492.9,144.0 491.3,145.1 489.8,146.2 488.3,147.2 487.0,148.0 485.7,148.8 484.6,149.5 483.5,150.0 482.6,150.6 481.7,151.0 480.9,151.4 480.2,151.7 479.5,152.0 479.0,152.3 478.4,152.5 477.9,152.7 477.5,152.9 477.1,153.0 476.8,153.1 476.5,153.2 476.2,153.3 475.9,153.4 475.7,153.4 475.5,153.5 475.3,153.5 475.1,153.6 475.0,153.6 474.8,153.6 474.7,153.6 474.6,153.7 474.4,153.7 474.3,153.7 474.2,153.7 474.1,153.7 474.0,153.7 473.9,153.7 473.8,153.7 473.7,153.7 473.6,153.7 473.5,153.7 473.4,153.7 473.3,153.7 473.2,153.7 473.0,153.7 472.9,153.6 472.8,153.6 472.6,153.6 472.5,153.6 472.3,153.5 472.1,153.5 471.9,153.4 471.7,153.4 471.4,153.3 471.1,153.2 470.8,153.1 470.5,153.0 470.1,152.9 469.7,152.7 469.2,152.5 468.6,152.3 468.1,152.0 467.4,151.7 466.7,151.4 465.9,151.0 465.0,150.6 464.1,150.0 463.0,149.5 461.9,148.8 460.6,148.0 459.3,147.2 457.8,146.2 456.3,145.1 454.7,144.0 452.9,142.6 451.1,141.2 449.1,139.7 447.1,138.0 445.0,136.3 442.9,134.4 440.7,132.4 438.6,130.4 436.4,128.2 434.2,126.0 432.2,123.9 430.1,121.6 428.2,119.4 426.3,117.3 424.6,115.2 423.0,113.1 421.4,111.1 420.0,109.2 418.8,107.4 417.6,105.7 416.5,104.1 415.5,102.6 414.7,101.2 414.0,99.9 413.3,98.7 412.7,97.7 412.2,96.7 411.7,95.8 411.4,95.0 411.0,94.3 410.7,93.6 410.5,93.0 410.3,92.4 410.1,92.0 410.0,91.6 409.8,91.2 409.7,90.8 409.6,90.5 409.5,90.2 409.5,90.0 409.4,89.7 409.4,89.5 409.3,89.4 409.3,89.2 409.3,89.0 409.3,88.9 409.2,88.8 409.2,88.7 409.2,88.5 409.2,88.4 409.2,88.3 409.2,88.2 409.2,88.1 409.2,88.0 409.2,87.9 409.2,87.8 409.2,87.7 409.2,87.6 409.2,87.5 409.2,87.3 409.2,87.2 409.3,87.1 409.3,87.0 409.3,86.8 409.3,86.6 409.4,86.5 409.4,86.3 409.5,86.0 409.5,85.8 409.6,85.5 409.7,85.2 409.8,84.8 410.0,84.4 410.1,84.0 410.3,83.6 410.5,83.0 410.7,82.4 411.0,81.7 411.4,81.0 411.7,80.2 412.2,79.3 412.7,78.3 413.3,77.3 414.0,76.1 414.7,74.8 415.5,73.4 416.5,71.9 417.6,70.3 418.8,68.6 420.0,66.8 421.4,64.9 423.0,62.9 424.6,60.8 426.3,58.7 428.2,56.6 430.1,54.4 432.2,52.1 434.2,50.0 436.4,47.8 438.6,45.6 440.7,43.6 442.9,41.6 445.0,39.7 447.1,38.0 449.1,36.3 451.1,34.8 452.9,33.4 454.7,32.0 456.3,30.9 457.8,29.8 459.3,28.8 460.6,28.0 461.9,27.2 463.0,26.5 464.1,26.0 465.0,25.4 465.9,25.0 466.7,24.6 467.4,24.3 468.1,24.0 468.6,23.7 469.2,23.5 469.7,23.3 470.1,23.1 470.5,23.0 470.8,22.9 471.1,22.8 471.4,22.7 471.7,22.6 471.9,22.6 472.1,22.5 472.3,22.5 472.5,22.4 472.6,22.4 472.8,22.4 472.9,22.4 473.0,22.3 473.2,22.3 473.3,22.3 473.4,22.3 473.5,22.3 473.6,22.3 473.7,22.3 473.8,22.3 473.9,22.3 474.0,22.3 474.1,22.3 474.2,22.3 474.3,22.3 474.4,22.3 474.6,22.3 474.7,22.4 474.8,22.4 475.0,22.4 475.1,22.4 475.3,22.5 475.5,22.5 475.7,22.6 475.9,22.6 476.2,22.7 476.5,22.8 476.8,22.9 477.1,23.0 477.5,23.1 477.9,23.3 478.4,23.5 479.0,23.7 479.5,24.0 480.2,24.3 480.9,24.6 481.7,25.0 482.6,25.4 483.5,26.0 484.6,26.5 485.7,27.2 487.0,28.0 488.3,28.8 489.8,29.8 491.3,30.9 492.9,32.0 494.7,33.4 496.5,34.8 498.5,36.3 500.5,38.0 502.6,39.7 504.7,41.6 506.9,43.6 509.0,45.6 511.2,47.8 513.4,50.0 515.4,52.1 517.5,54.4 519.4,56.6 521.3,58.7 523.0,60.8 524.6,62.9 526.2,64.9 527.6,66.8 528.8,68.6 530.0,70.3 531.1,71.9 532.1,73.4 532.9,74.8 533.6,76.1 534.3,77.3 534.9,78.3 535.4,79.3 535.9,80.2 536.2,81.0 536.6,81.7 536.9,82.4 537.1,83.0 537.3,83.6 537.5,84.0 537.6,84.4 537.8,84.8 537.9,85.2 538.0,85.5 538.1,85.8 538.1,86.0 538.2,86.3 538.2,86.5 538.3,86.6 538.3,86.8 538.3,87.0 538.3,87.1 538.4,87.2 538.4,87.3 538.4,87.5 538.4,87.6 538.4,87.7 538.4,87.8 538.4,87.9" fill="none" stroke="#f2f0f0" stroke-width="4.8" stroke-linejoin="round"/>
</g><text x="396.8" y="16.2" font-size="11.0" text-anchor="end" textLength="12.3" lengthAdjust="spacingAndGlyphs">20</text><text x="396.8" y="54.4" font-size="11.0" text-anchor="end" textLength="12.3" lengthAdjust="spacingAndGlyphs">10</text><text x="396.8" y="92.4" font-size="11.0" text-anchor="end" textLength="5.8" lengthAdjust="spacingAndGlyphs">0</text><text x="396.8" y="129.8" font-size="11.0" text-anchor="end" textLength="21.8" lengthAdjust="spacingAndGlyphs">&#8722;10</text><text x="396.8" y="168.0" font-size="11.0" text-anchor="end" textLength="21.8" lengthAdjust="spacingAndGlyphs">&#8722;20</text><text x="413.5" y="177.5" font-size="11.0" text-anchor="middle" textLength="20.8" lengthAdjust="spacingAndGlyphs">-3.0</text><text x="445.0" y="177.5" font-size="11.0" text-anchor="middle" textLength="20.8" lengthAdjust="spacingAndGlyphs">-1.5</text><text x="476.1" y="177.5" font-size="11.0" text-anchor="middle" textLength="17.4" lengthAdjust="spacingAndGlyphs">0.0</text><text x="507.6" y="177.5" font-size="11.0" text-anchor="middle" textLength="16.3" lengthAdjust="spacingAndGlyphs">1.5</text><text x="538.7" y="177.5" font-size="11.0" text-anchor="middle" textLength="16.8" lengthAdjust="spacingAndGlyphs">3.0</text><text x="476.4" y="188.8" font-size="11" text-anchor="middle" textLength="132" lengthAdjust="spacingAndGlyphs">Rel. Distance <tspan font-style="italic">z</tspan> (mm)</text><text transform="translate(365.2,88.1) rotate(-90)" font-size="12.3" text-anchor="middle" textLength="50.2" lengthAdjust="spacingAndGlyphs">&#916;<tspan font-style="italic">v</tspan> (m/s)</text></svg></body></html>
